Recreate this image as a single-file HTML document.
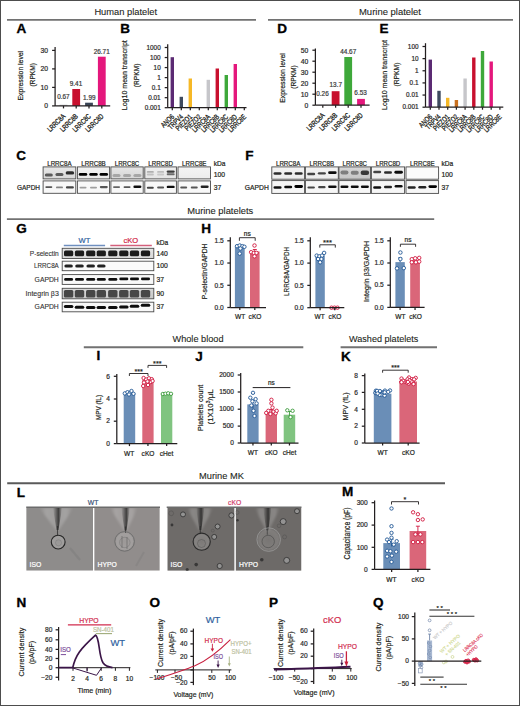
<!DOCTYPE html>
<html><head><meta charset="utf-8"><style>
html,body{margin:0;padding:0;background:#fff;}
svg{display:block;font-family:"Liberation Sans", sans-serif;}
</style></head><body>
<svg width="520" height="706" viewBox="0 0 520 706">
<defs>
<filter id="blur1" x="-20%" y="-20%" width="140%" height="140%"><feGaussianBlur stdDeviation="0.6"/></filter>
<filter id="blur2" x="-20%" y="-20%" width="140%" height="140%"><feGaussianBlur stdDeviation="1.2"/></filter>
</defs>
<rect x="0.5" y="0.5" width="519" height="705" fill="#fff" stroke="#4d4d4d" stroke-width="1"/>
<text x="125.7" y="15.2" font-size="9.5" text-anchor="middle" fill="#231f20" stroke="#231f20" stroke-width="0.1" textLength="62.6" lengthAdjust="spacingAndGlyphs">Human platelet</text>
<line x1="7" y1="19.9" x2="256" y2="19.9" stroke="#727272" stroke-width="1.9"/>
<text x="390" y="15.2" font-size="9.5" text-anchor="middle" fill="#231f20" stroke="#231f20" stroke-width="0.1" textLength="62" lengthAdjust="spacingAndGlyphs">Murine platelet</text>
<line x1="268" y1="19.9" x2="513" y2="19.9" stroke="#727272" stroke-width="1.9"/>
<text transform="translate(16.4,33.099999999999994) scale(1.12,1)" font-size="12.1" font-weight="bold" fill="#000" stroke="#000" stroke-width="0.3">A</text>
<line x1="55.1" y1="47.0" x2="55.1" y2="105.9" stroke="#231f20" stroke-width="1.25"/>
<line x1="52.1" y1="50.400000000000006" x2="55.1" y2="50.400000000000006" stroke="#231f20" stroke-width="1.25"/>
<text x="48.1" y="52.748000000000005" font-size="6.8" text-anchor="end" fill="#2a2a2a" stroke="#2a2a2a" stroke-width="0.2">30</text>
<line x1="52.1" y1="68.9" x2="55.1" y2="68.9" stroke="#231f20" stroke-width="1.25"/>
<text x="48.1" y="71.248" font-size="6.8" text-anchor="end" fill="#2a2a2a" stroke="#2a2a2a" stroke-width="0.2">20</text>
<line x1="52.1" y1="87.4" x2="55.1" y2="87.4" stroke="#231f20" stroke-width="1.25"/>
<text x="48.1" y="89.748" font-size="6.8" text-anchor="end" fill="#2a2a2a" stroke="#2a2a2a" stroke-width="0.2">10</text>
<line x1="52.1" y1="105.9" x2="55.1" y2="105.9" stroke="#231f20" stroke-width="1.25"/>
<text x="48.1" y="108.248" font-size="6.8" text-anchor="end" fill="#2a2a2a" stroke="#2a2a2a" stroke-width="0.2">0</text>
<rect x="59.6" y="104.7" width="7.8" height="1.2000000000000028" fill="#c6c6ca"/>
<rect x="72.3" y="89.0" width="7.8" height="16.900000000000006" fill="#c8102e"/>
<rect x="85.1" y="102.7" width="7.8" height="3.200000000000003" fill="#3a4556"/>
<rect x="97.89999999999999" y="56.7" width="7.8" height="49.2" fill="#e4177c"/>
<line x1="55.1" y1="105.9" x2="110.2" y2="105.9" stroke="#231f20" stroke-width="1.25"/>
<line x1="63.5" y1="105.9" x2="63.5" y2="108.4" stroke="#231f20" stroke-width="1.25"/>
<line x1="76.2" y1="105.9" x2="76.2" y2="108.4" stroke="#231f20" stroke-width="1.25"/>
<line x1="89.0" y1="105.9" x2="89.0" y2="108.4" stroke="#231f20" stroke-width="1.25"/>
<line x1="101.8" y1="105.9" x2="101.8" y2="108.4" stroke="#231f20" stroke-width="1.25"/>
<text x="63.4" y="99.4" font-size="6.4" text-anchor="middle" fill="#3a3a3a" stroke="#3a3a3a" stroke-width="0.2">0.67</text>
<text x="76.0" y="85.9" font-size="6.4" text-anchor="middle" fill="#3a3a3a" stroke="#3a3a3a" stroke-width="0.2">9.41</text>
<text x="89.3" y="99.8" font-size="6.4" text-anchor="middle" fill="#3a3a3a" stroke="#3a3a3a" stroke-width="0.2">1.99</text>
<text x="101.7" y="53.7" font-size="6.4" text-anchor="middle" fill="#3a3a3a" stroke="#3a3a3a" stroke-width="0.2">26.71</text>
<text transform="translate(65.8,116.8) rotate(-45)" font-size="7.4" text-anchor="end" fill="#231f20" stroke="#231f20" stroke-width="0.3" textLength="22.02" lengthAdjust="spacingAndGlyphs">LRRC8A</text>
<text transform="translate(78.5,116.8) rotate(-45)" font-size="7.4" text-anchor="end" fill="#231f20" stroke="#231f20" stroke-width="0.3" textLength="22.02" lengthAdjust="spacingAndGlyphs">LRRC8B</text>
<text transform="translate(91.3,116.8) rotate(-45)" font-size="7.4" text-anchor="end" fill="#231f20" stroke="#231f20" stroke-width="0.3" textLength="22.32" lengthAdjust="spacingAndGlyphs">LRRC8C</text>
<text transform="translate(104.1,116.8) rotate(-45)" font-size="7.4" text-anchor="end" fill="#231f20" stroke="#231f20" stroke-width="0.3" textLength="22.32" lengthAdjust="spacingAndGlyphs">LRRC8D</text>
<text transform="translate(23.4,75.7) rotate(-90)" font-size="7.9" text-anchor="middle" fill="#231f20" stroke="#231f20" stroke-width="0.2" textLength="49.6" lengthAdjust="spacingAndGlyphs">Expression level</text>
<text transform="translate(35.3,74.8) rotate(-90)" font-size="7.9" text-anchor="middle" fill="#231f20" stroke="#231f20" stroke-width="0.2" textLength="23.6" lengthAdjust="spacingAndGlyphs">(RPKM)</text>
<text transform="translate(120.2,33.0) scale(1.12,1)" font-size="12.1" font-weight="bold" fill="#000" stroke="#000" stroke-width="0.3">B</text>
<line x1="167.7" y1="44.3" x2="167.7" y2="107.7" stroke="#231f20" stroke-width="1.25"/>
<line x1="164.7" y1="107.7" x2="167.7" y2="107.7" stroke="#231f20" stroke-width="1.25"/>
<text x="160.7" y="109.90400000000001" font-size="6.4" text-anchor="end" fill="#2a2a2a" stroke="#2a2a2a" stroke-width="0.2">0.001</text>
<line x1="164.7" y1="97.66666666666667" x2="167.7" y2="97.66666666666667" stroke="#231f20" stroke-width="1.25"/>
<text x="160.7" y="99.87066666666668" font-size="6.4" text-anchor="end" fill="#2a2a2a" stroke="#2a2a2a" stroke-width="0.2">0.01</text>
<line x1="164.7" y1="87.63333333333334" x2="167.7" y2="87.63333333333334" stroke="#231f20" stroke-width="1.25"/>
<text x="160.7" y="89.83733333333335" font-size="6.4" text-anchor="end" fill="#2a2a2a" stroke="#2a2a2a" stroke-width="0.2">0.1</text>
<line x1="164.7" y1="77.6" x2="167.7" y2="77.6" stroke="#231f20" stroke-width="1.25"/>
<text x="160.7" y="79.804" font-size="6.4" text-anchor="end" fill="#2a2a2a" stroke="#2a2a2a" stroke-width="0.2">1</text>
<line x1="164.7" y1="67.56666666666666" x2="167.7" y2="67.56666666666666" stroke="#231f20" stroke-width="1.25"/>
<text x="160.7" y="69.77066666666667" font-size="6.4" text-anchor="end" fill="#2a2a2a" stroke="#2a2a2a" stroke-width="0.2">10</text>
<line x1="164.7" y1="57.53333333333334" x2="167.7" y2="57.53333333333334" stroke="#231f20" stroke-width="1.25"/>
<text x="160.7" y="59.73733333333334" font-size="6.4" text-anchor="end" fill="#2a2a2a" stroke="#2a2a2a" stroke-width="0.2">100</text>
<line x1="164.7" y1="47.5" x2="167.7" y2="47.5" stroke="#231f20" stroke-width="1.25"/>
<text x="160.7" y="49.704" font-size="6.4" text-anchor="end" fill="#2a2a2a" stroke="#2a2a2a" stroke-width="0.2">1000</text>
<rect x="170.60000000000002" y="57.2" width="3.4" height="50.5" fill="#5b2a73"/>
<rect x="179.60000000000002" y="96.8" width="3.4" height="10.900000000000006" fill="#3e4a5f"/>
<rect x="188.60000000000002" y="78.5" width="3.4" height="29.200000000000003" fill="#f6b826"/>
<rect x="206.60000000000002" y="79.8" width="3.4" height="27.900000000000006" fill="#c6c6ca"/>
<rect x="215.60000000000002" y="68.5" width="3.4" height="39.2" fill="#c8102e"/>
<rect x="224.60000000000002" y="75.0" width="3.4" height="32.7" fill="#3ea83a"/>
<rect x="233.60000000000002" y="64.0" width="3.4" height="43.7" fill="#e4177c"/>
<line x1="167.7" y1="107.7" x2="246.5" y2="107.7" stroke="#231f20" stroke-width="1.25"/>
<line x1="172.3" y1="107.7" x2="172.3" y2="110.2" stroke="#231f20" stroke-width="1.25"/>
<line x1="181.3" y1="107.7" x2="181.3" y2="110.2" stroke="#231f20" stroke-width="1.25"/>
<line x1="190.3" y1="107.7" x2="190.3" y2="110.2" stroke="#231f20" stroke-width="1.25"/>
<line x1="199.3" y1="107.7" x2="199.3" y2="110.2" stroke="#231f20" stroke-width="1.25"/>
<line x1="208.3" y1="107.7" x2="208.3" y2="110.2" stroke="#231f20" stroke-width="1.25"/>
<line x1="217.3" y1="107.7" x2="217.3" y2="110.2" stroke="#231f20" stroke-width="1.25"/>
<line x1="226.3" y1="107.7" x2="226.3" y2="110.2" stroke="#231f20" stroke-width="1.25"/>
<line x1="235.3" y1="107.7" x2="235.3" y2="110.2" stroke="#231f20" stroke-width="1.25"/>
<line x1="244.3" y1="107.7" x2="244.3" y2="110.2" stroke="#231f20" stroke-width="1.25"/>
<text transform="translate(174.60000000000002,117.3) rotate(-45)" font-size="7.4" text-anchor="end" fill="#231f20" stroke="#231f20" stroke-width="0.3" textLength="15.19" lengthAdjust="spacingAndGlyphs">ANO6</text>
<text transform="translate(183.60000000000002,117.3) rotate(-45)" font-size="7.4" text-anchor="end" fill="#231f20" stroke="#231f20" stroke-width="0.3" textLength="17.98" lengthAdjust="spacingAndGlyphs">TRPV4</text>
<text transform="translate(192.60000000000002,117.3) rotate(-45)" font-size="7.4" text-anchor="end" fill="#231f20" stroke="#231f20" stroke-width="0.3" textLength="19.84" lengthAdjust="spacingAndGlyphs">PIEZO1</text>
<text transform="translate(201.60000000000002,117.3) rotate(-45)" font-size="7.4" text-anchor="end" fill="#231f20" stroke="#231f20" stroke-width="0.3" textLength="19.84" lengthAdjust="spacingAndGlyphs">PIEZO2</text>
<text transform="translate(210.60000000000002,117.3) rotate(-45)" font-size="7.4" text-anchor="end" fill="#231f20" stroke="#231f20" stroke-width="0.3" textLength="22.02" lengthAdjust="spacingAndGlyphs">LRRC8A</text>
<text transform="translate(219.60000000000002,117.3) rotate(-45)" font-size="7.4" text-anchor="end" fill="#231f20" stroke="#231f20" stroke-width="0.3" textLength="22.02" lengthAdjust="spacingAndGlyphs">LRRC8B</text>
<text transform="translate(228.60000000000002,117.3) rotate(-45)" font-size="7.4" text-anchor="end" fill="#231f20" stroke="#231f20" stroke-width="0.3" textLength="22.32" lengthAdjust="spacingAndGlyphs">LRRC8C</text>
<text transform="translate(237.60000000000002,117.3) rotate(-45)" font-size="7.4" text-anchor="end" fill="#231f20" stroke="#231f20" stroke-width="0.3" textLength="22.32" lengthAdjust="spacingAndGlyphs">LRRC8D</text>
<text transform="translate(246.60000000000002,117.3) rotate(-45)" font-size="7.4" text-anchor="end" fill="#231f20" stroke="#231f20" stroke-width="0.3" textLength="22.02" lengthAdjust="spacingAndGlyphs">LRRC8E</text>
<text transform="translate(127.2,75.2) rotate(-90)" font-size="7.9" text-anchor="middle" fill="#231f20" stroke="#231f20" stroke-width="0.2" textLength="70" lengthAdjust="spacingAndGlyphs">Log10 mean transcript</text>
<text transform="translate(138.9,75.4) rotate(-90)" font-size="7.9" text-anchor="middle" fill="#231f20" stroke="#231f20" stroke-width="0.2" textLength="23.5" lengthAdjust="spacingAndGlyphs">(RPKM)</text>
<text transform="translate(277.29999999999995,33.099999999999994) scale(1.12,1)" font-size="12.1" font-weight="bold" fill="#000" stroke="#000" stroke-width="0.3">D</text>
<line x1="315.4" y1="48.5" x2="315.4" y2="105.2" stroke="#231f20" stroke-width="1.25"/>
<line x1="312.4" y1="50.199999999999996" x2="315.4" y2="50.199999999999996" stroke="#231f20" stroke-width="1.25"/>
<text x="308.4" y="52.547999999999995" font-size="6.8" text-anchor="end" fill="#2a2a2a" stroke="#2a2a2a" stroke-width="0.2">50</text>
<line x1="312.4" y1="61.2" x2="315.4" y2="61.2" stroke="#231f20" stroke-width="1.25"/>
<text x="308.4" y="63.548" font-size="6.8" text-anchor="end" fill="#2a2a2a" stroke="#2a2a2a" stroke-width="0.2">40</text>
<line x1="312.4" y1="72.2" x2="315.4" y2="72.2" stroke="#231f20" stroke-width="1.25"/>
<text x="308.4" y="74.548" font-size="6.8" text-anchor="end" fill="#2a2a2a" stroke="#2a2a2a" stroke-width="0.2">30</text>
<line x1="312.4" y1="83.2" x2="315.4" y2="83.2" stroke="#231f20" stroke-width="1.25"/>
<text x="308.4" y="85.548" font-size="6.8" text-anchor="end" fill="#2a2a2a" stroke="#2a2a2a" stroke-width="0.2">20</text>
<line x1="312.4" y1="94.2" x2="315.4" y2="94.2" stroke="#231f20" stroke-width="1.25"/>
<text x="308.4" y="96.548" font-size="6.8" text-anchor="end" fill="#2a2a2a" stroke="#2a2a2a" stroke-width="0.2">10</text>
<line x1="312.4" y1="105.2" x2="315.4" y2="105.2" stroke="#231f20" stroke-width="1.25"/>
<text x="308.4" y="107.548" font-size="6.8" text-anchor="end" fill="#2a2a2a" stroke="#2a2a2a" stroke-width="0.2">0</text>
<rect x="318.90000000000003" y="104.9" width="7.8" height="0.29999999999999716" fill="#c6c6ca"/>
<rect x="331.70000000000005" y="91.2" width="7.8" height="14.0" fill="#c8102e"/>
<rect x="344.3" y="57.0" width="7.8" height="48.2" fill="#3ea83a"/>
<rect x="357.1" y="98.9" width="7.8" height="6.299999999999997" fill="#e4177c"/>
<line x1="315.4" y1="105.2" x2="369.6" y2="105.2" stroke="#231f20" stroke-width="1.25"/>
<line x1="322.8" y1="105.2" x2="322.8" y2="107.7" stroke="#231f20" stroke-width="1.25"/>
<line x1="335.6" y1="105.2" x2="335.6" y2="107.7" stroke="#231f20" stroke-width="1.25"/>
<line x1="348.2" y1="105.2" x2="348.2" y2="107.7" stroke="#231f20" stroke-width="1.25"/>
<line x1="361.0" y1="105.2" x2="361.0" y2="107.7" stroke="#231f20" stroke-width="1.25"/>
<text x="322.5" y="95.8" font-size="6.4" text-anchor="middle" fill="#3a3a3a" stroke="#3a3a3a" stroke-width="0.2">0.26</text>
<text x="335.8" y="87.3" font-size="6.4" text-anchor="middle" fill="#3a3a3a" stroke="#3a3a3a" stroke-width="0.2">13.7</text>
<text x="348.2" y="53.8" font-size="6.4" text-anchor="middle" fill="#3a3a3a" stroke="#3a3a3a" stroke-width="0.2">44.67</text>
<text x="360.6" y="95.2" font-size="6.4" text-anchor="middle" fill="#3a3a3a" stroke="#3a3a3a" stroke-width="0.2">6.53</text>
<text transform="translate(325.1,115.8) rotate(-45)" font-size="7.4" text-anchor="end" fill="#231f20" stroke="#231f20" stroke-width="0.3" textLength="22.02" lengthAdjust="spacingAndGlyphs">LRRC8A</text>
<text transform="translate(337.90000000000003,115.8) rotate(-45)" font-size="7.4" text-anchor="end" fill="#231f20" stroke="#231f20" stroke-width="0.3" textLength="22.02" lengthAdjust="spacingAndGlyphs">LRRC8B</text>
<text transform="translate(350.5,115.8) rotate(-45)" font-size="7.4" text-anchor="end" fill="#231f20" stroke="#231f20" stroke-width="0.3" textLength="22.32" lengthAdjust="spacingAndGlyphs">LRRC8C</text>
<text transform="translate(363.3,115.8) rotate(-45)" font-size="7.4" text-anchor="end" fill="#231f20" stroke="#231f20" stroke-width="0.3" textLength="22.32" lengthAdjust="spacingAndGlyphs">LRRC8D</text>
<text transform="translate(284.5,78) rotate(-90)" font-size="7.9" text-anchor="middle" fill="#231f20" stroke="#231f20" stroke-width="0.2" textLength="49.6" lengthAdjust="spacingAndGlyphs">Expression level</text>
<text transform="translate(296.3,77) rotate(-90)" font-size="7.9" text-anchor="middle" fill="#231f20" stroke="#231f20" stroke-width="0.2" textLength="23.6" lengthAdjust="spacingAndGlyphs">(RPKM)</text>
<text transform="translate(379.4,33.0) scale(1.12,1)" font-size="12.1" font-weight="bold" fill="#000" stroke="#000" stroke-width="0.3">E</text>
<line x1="425.5" y1="43.2" x2="425.5" y2="107.2" stroke="#231f20" stroke-width="1.25"/>
<line x1="422.5" y1="107.2" x2="425.5" y2="107.2" stroke="#231f20" stroke-width="1.25"/>
<text x="418.5" y="109.40400000000001" font-size="6.4" text-anchor="end" fill="#2a2a2a" stroke="#2a2a2a" stroke-width="0.2">0.001</text>
<line x1="422.5" y1="95.06" x2="425.5" y2="95.06" stroke="#231f20" stroke-width="1.25"/>
<text x="418.5" y="97.26400000000001" font-size="6.4" text-anchor="end" fill="#2a2a2a" stroke="#2a2a2a" stroke-width="0.2">0.01</text>
<line x1="422.5" y1="82.92" x2="425.5" y2="82.92" stroke="#231f20" stroke-width="1.25"/>
<text x="418.5" y="85.12400000000001" font-size="6.4" text-anchor="end" fill="#2a2a2a" stroke="#2a2a2a" stroke-width="0.2">0.1</text>
<line x1="422.5" y1="70.78" x2="425.5" y2="70.78" stroke="#231f20" stroke-width="1.25"/>
<text x="418.5" y="72.98400000000001" font-size="6.4" text-anchor="end" fill="#2a2a2a" stroke="#2a2a2a" stroke-width="0.2">1</text>
<line x1="422.5" y1="58.64" x2="425.5" y2="58.64" stroke="#231f20" stroke-width="1.25"/>
<text x="418.5" y="60.844" font-size="6.4" text-anchor="end" fill="#2a2a2a" stroke="#2a2a2a" stroke-width="0.2">10</text>
<line x1="422.5" y1="46.5" x2="425.5" y2="46.5" stroke="#231f20" stroke-width="1.25"/>
<text x="418.5" y="48.704" font-size="6.4" text-anchor="end" fill="#2a2a2a" stroke="#2a2a2a" stroke-width="0.2">100</text>
<rect x="428.6" y="59.6" width="3.4" height="47.6" fill="#5b2a73"/>
<rect x="437.3" y="90.8" width="3.4" height="16.400000000000006" fill="#3e4a5f"/>
<rect x="446.0" y="97.8" width="3.4" height="9.400000000000006" fill="#f6b826"/>
<rect x="454.70000000000005" y="100.0" width="3.4" height="7.200000000000003" fill="#c9701e"/>
<rect x="463.40000000000003" y="78.5" width="3.4" height="28.700000000000003" fill="#c6c6ca"/>
<rect x="472.1" y="57.5" width="3.4" height="49.7" fill="#c8102e"/>
<rect x="480.8" y="51.0" width="3.4" height="56.2" fill="#3ea83a"/>
<rect x="489.5" y="61.5" width="3.4" height="45.7" fill="#e4177c"/>
<line x1="425.5" y1="107.2" x2="503.3" y2="107.2" stroke="#231f20" stroke-width="1.25"/>
<line x1="430.3" y1="107.2" x2="430.3" y2="109.7" stroke="#231f20" stroke-width="1.25"/>
<line x1="439.0" y1="107.2" x2="439.0" y2="109.7" stroke="#231f20" stroke-width="1.25"/>
<line x1="447.7" y1="107.2" x2="447.7" y2="109.7" stroke="#231f20" stroke-width="1.25"/>
<line x1="456.40000000000003" y1="107.2" x2="456.40000000000003" y2="109.7" stroke="#231f20" stroke-width="1.25"/>
<line x1="465.1" y1="107.2" x2="465.1" y2="109.7" stroke="#231f20" stroke-width="1.25"/>
<line x1="473.8" y1="107.2" x2="473.8" y2="109.7" stroke="#231f20" stroke-width="1.25"/>
<line x1="482.5" y1="107.2" x2="482.5" y2="109.7" stroke="#231f20" stroke-width="1.25"/>
<line x1="491.2" y1="107.2" x2="491.2" y2="109.7" stroke="#231f20" stroke-width="1.25"/>
<line x1="499.9" y1="107.2" x2="499.9" y2="109.7" stroke="#231f20" stroke-width="1.25"/>
<text transform="translate(432.6,117.3) rotate(-45)" font-size="7.4" text-anchor="end" fill="#231f20" stroke="#231f20" stroke-width="0.3" textLength="15.19" lengthAdjust="spacingAndGlyphs">ANO6</text>
<text transform="translate(441.3,117.3) rotate(-45)" font-size="7.4" text-anchor="end" fill="#231f20" stroke="#231f20" stroke-width="0.3" textLength="17.98" lengthAdjust="spacingAndGlyphs">TRPV4</text>
<text transform="translate(450.0,117.3) rotate(-45)" font-size="7.4" text-anchor="end" fill="#231f20" stroke="#231f20" stroke-width="0.3" textLength="19.84" lengthAdjust="spacingAndGlyphs">PIEZO1</text>
<text transform="translate(458.70000000000005,117.3) rotate(-45)" font-size="7.4" text-anchor="end" fill="#231f20" stroke="#231f20" stroke-width="0.3" textLength="19.84" lengthAdjust="spacingAndGlyphs">PIEZO2</text>
<text transform="translate(467.40000000000003,117.3) rotate(-45)" font-size="7.4" text-anchor="end" fill="#231f20" stroke="#231f20" stroke-width="0.3" textLength="22.02" lengthAdjust="spacingAndGlyphs">LRRC8A</text>
<text transform="translate(476.1,117.3) rotate(-45)" font-size="7.4" text-anchor="end" fill="#231f20" stroke="#231f20" stroke-width="0.3" textLength="22.02" lengthAdjust="spacingAndGlyphs">LRRC8B</text>
<text transform="translate(484.8,117.3) rotate(-45)" font-size="7.4" text-anchor="end" fill="#231f20" stroke="#231f20" stroke-width="0.3" textLength="22.32" lengthAdjust="spacingAndGlyphs">LRRC8C</text>
<text transform="translate(493.5,117.3) rotate(-45)" font-size="7.4" text-anchor="end" fill="#231f20" stroke="#231f20" stroke-width="0.3" textLength="22.32" lengthAdjust="spacingAndGlyphs">LRRC8D</text>
<text transform="translate(502.2,117.3) rotate(-45)" font-size="7.4" text-anchor="end" fill="#231f20" stroke="#231f20" stroke-width="0.3" textLength="22.02" lengthAdjust="spacingAndGlyphs">LRRC8E</text>
<text transform="translate(387.0,75.0) rotate(-90)" font-size="7.9" text-anchor="middle" fill="#231f20" stroke="#231f20" stroke-width="0.2" textLength="70" lengthAdjust="spacingAndGlyphs">Log10 mean transcript</text>
<text transform="translate(398.6,74.6) rotate(-90)" font-size="7.9" text-anchor="middle" fill="#231f20" stroke="#231f20" stroke-width="0.2" textLength="24" lengthAdjust="spacingAndGlyphs">(RPKM)</text>
<text transform="translate(16.299999999999997,160.3) scale(1.12,1)" font-size="12.1" font-weight="bold" fill="#000" stroke="#000" stroke-width="0.3">C</text>
<text x="17" y="190.0" font-size="6.8" text-anchor="start" fill="#231f20" stroke="#231f20" stroke-width="0.2" textLength="23" lengthAdjust="spacingAndGlyphs">GAPDH</text>
<text x="59.45" y="165.6" font-size="6.4" text-anchor="middle" fill="#231f20" stroke="#231f20" stroke-width="0.2" textLength="24.5" lengthAdjust="spacingAndGlyphs">LRRC8A</text>
<text x="93.5" y="165.6" font-size="6.4" text-anchor="middle" fill="#231f20" stroke="#231f20" stroke-width="0.2" textLength="24.5" lengthAdjust="spacingAndGlyphs">LRRC8B</text>
<text x="127.05" y="165.6" font-size="6.4" text-anchor="middle" fill="#231f20" stroke="#231f20" stroke-width="0.2" textLength="24.5" lengthAdjust="spacingAndGlyphs">LRRC8C</text>
<text x="160.60000000000002" y="165.6" font-size="6.4" text-anchor="middle" fill="#231f20" stroke="#231f20" stroke-width="0.2" textLength="24.5" lengthAdjust="spacingAndGlyphs">LRRC8D</text>
<text x="194.25" y="165.6" font-size="6.4" text-anchor="middle" fill="#231f20" stroke="#231f20" stroke-width="0.2" textLength="24.5" lengthAdjust="spacingAndGlyphs">LRRC8E</text>
<linearGradient id="g161" x1="0" y1="0" x2="0" y2="1"><stop offset="0" stop-color="#e8e8e8"/><stop offset="1" stop-color="#d8d8d8"/></linearGradient>
<rect x="43.1" y="166.9" width="32.699999999999996" height="12.0" fill="url(#g161)"/>
<rect x="44.82" y="173.40" width="8" height="3.0" rx="1.5" fill="#444" opacity="0.85" filter="url(#blur1)"/>
<rect x="55.45" y="173.00" width="8" height="3.0" rx="1.5" fill="#444" opacity="0.85" filter="url(#blur1)"/>
<rect x="65.66" y="171.20" width="8.5" height="3.4" rx="1.7" fill="#222" opacity="0.95" filter="url(#blur1)"/>
<rect x="43.1" y="166.9" width="32.699999999999996" height="12.0" fill="none" stroke="#4a4a4a" stroke-width="0.9"/>
<rect x="43.1" y="180.9" width="32.699999999999996" height="12.400000000000006" fill="#f8f8f8"/>
<rect x="45.32" y="186.20" width="7" height="1.8" rx="0.9" fill="#444" opacity="0.9" filter="url(#blur1)"/>
<rect x="55.95" y="186.50" width="7" height="1.8" rx="0.9" fill="#666" opacity="0.8" filter="url(#blur1)"/>
<rect x="65.91" y="186.30" width="8" height="2.2" rx="1.1" fill="#333" opacity="0.9" filter="url(#blur1)"/>
<rect x="43.1" y="180.9" width="32.699999999999996" height="12.400000000000006" fill="none" stroke="#4a4a4a" stroke-width="0.9"/>
<linearGradient id="g172" x1="0" y1="0" x2="0" y2="1"><stop offset="0" stop-color="#f2f2f2"/><stop offset="1" stop-color="#e8e8e8"/></linearGradient>
<rect x="77.4" y="166.9" width="32.19999999999999" height="12.0" fill="url(#g172)"/>
<rect x="78.78" y="173.00" width="8.5" height="2.8" rx="1.4" fill="#000" opacity="1" filter="url(#blur1)"/>
<rect x="89.25" y="173.00" width="8.5" height="2.8" rx="1.4" fill="#000" opacity="1" filter="url(#blur1)"/>
<rect x="99.55" y="173.00" width="8.5" height="2.8" rx="1.4" fill="#000" opacity="1" filter="url(#blur1)"/>
<rect x="77.4" y="166.9" width="32.19999999999999" height="12.0" fill="none" stroke="#4a4a4a" stroke-width="0.9"/>
<rect x="77.4" y="180.9" width="32.19999999999999" height="12.400000000000006" fill="#f8f8f8"/>
<rect x="79.53" y="186.70" width="7" height="1.8" rx="0.9" fill="#888" opacity="0.8" filter="url(#blur1)"/>
<rect x="90.00" y="186.70" width="7" height="1.8" rx="0.9" fill="#888" opacity="0.8" filter="url(#blur1)"/>
<rect x="99.80" y="186.00" width="8" height="2.2" rx="1.1" fill="#444" opacity="0.9" filter="url(#blur1)"/>
<rect x="77.4" y="180.9" width="32.19999999999999" height="12.400000000000006" fill="none" stroke="#4a4a4a" stroke-width="0.9"/>
<linearGradient id="g183" x1="0" y1="0" x2="0" y2="1"><stop offset="0" stop-color="#e6e6e6"/><stop offset="1" stop-color="#d6d6d6"/></linearGradient>
<rect x="110.9" y="166.9" width="32.29999999999998" height="12.0" fill="url(#g183)"/>
<rect x="112.55" y="173.90" width="8" height="3.2" rx="1.6" fill="#9a9a9a" opacity="0.8" filter="url(#blur1)"/>
<rect x="123.05" y="173.90" width="8" height="3.2" rx="1.6" fill="#9a9a9a" opacity="0.8" filter="url(#blur1)"/>
<rect x="133.39" y="173.90" width="8" height="3.2" rx="1.6" fill="#9a9a9a" opacity="0.8" filter="url(#blur1)"/>
<rect x="110.9" y="166.9" width="32.29999999999998" height="12.0" fill="none" stroke="#4a4a4a" stroke-width="0.9"/>
<rect x="110.9" y="180.9" width="32.29999999999998" height="12.400000000000006" fill="#f8f8f8"/>
<rect x="113.05" y="186.20" width="7" height="1.8" rx="0.9" fill="#555" opacity="0.9" filter="url(#blur1)"/>
<rect x="123.55" y="186.20" width="7" height="1.8" rx="0.9" fill="#444" opacity="0.9" filter="url(#blur1)"/>
<rect x="133.39" y="185.60" width="8" height="2.4" rx="1.2" fill="#111" opacity="1" filter="url(#blur1)"/>
<rect x="110.9" y="180.9" width="32.29999999999998" height="12.400000000000006" fill="none" stroke="#4a4a4a" stroke-width="0.9"/>
<linearGradient id="g194" x1="0" y1="0" x2="0" y2="1"><stop offset="0" stop-color="#f0f0f0"/><stop offset="1" stop-color="#e4e4e4"/></linearGradient>
<rect x="144.8" y="166.9" width="31.599999999999994" height="12.0" fill="url(#g194)"/>
<rect x="146.83" y="171.00" width="7" height="1.8" rx="0.9" fill="#888" opacity="0.6" filter="url(#blur1)"/>
<rect x="146.83" y="173.60" width="7" height="1.8" rx="0.9" fill="#999" opacity="0.5" filter="url(#blur1)"/>
<rect x="157.10" y="171.00" width="7" height="1.8" rx="0.9" fill="#999" opacity="0.55" filter="url(#blur1)"/>
<rect x="157.10" y="173.60" width="7" height="1.8" rx="0.9" fill="#aaa" opacity="0.5" filter="url(#blur1)"/>
<rect x="166.71" y="170.40" width="8" height="2.4" rx="1.2" fill="#333" opacity="0.95" filter="url(#blur1)"/>
<rect x="166.71" y="173.30" width="8" height="2.0" rx="1.0" fill="#555" opacity="0.85" filter="url(#blur1)"/>
<rect x="144.8" y="166.9" width="31.599999999999994" height="12.0" fill="none" stroke="#4a4a4a" stroke-width="0.9"/>
<rect x="144.8" y="180.9" width="31.599999999999994" height="12.400000000000006" fill="#f8f8f8"/>
<rect x="146.83" y="186.70" width="7" height="2" rx="1.0" fill="#333" opacity="0.9" filter="url(#blur1)"/>
<rect x="157.10" y="186.40" width="7" height="2" rx="1.0" fill="#444" opacity="0.9" filter="url(#blur1)"/>
<rect x="166.71" y="185.70" width="8" height="2.4" rx="1.2" fill="#111" opacity="1" filter="url(#blur1)"/>
<rect x="144.8" y="180.9" width="31.599999999999994" height="12.400000000000006" fill="none" stroke="#4a4a4a" stroke-width="0.9"/>
<linearGradient id="g208" x1="0" y1="0" x2="0" y2="1"><stop offset="0" stop-color="#f4f4f4"/><stop offset="1" stop-color="#ececec"/></linearGradient>
<rect x="178.0" y="166.9" width="32.5" height="12.0" fill="url(#g208)"/>
<rect x="178.0" y="166.9" width="32.5" height="12.0" fill="none" stroke="#4a4a4a" stroke-width="0.9"/>
<rect x="178.0" y="180.9" width="32.5" height="12.400000000000006" fill="#f8f8f8"/>
<rect x="180.19" y="186.40" width="7" height="2" rx="1.0" fill="#444" opacity="0.9" filter="url(#blur1)"/>
<rect x="190.75" y="186.40" width="7" height="2" rx="1.0" fill="#444" opacity="0.9" filter="url(#blur1)"/>
<rect x="200.65" y="185.60" width="8" height="2.4" rx="1.2" fill="#222" opacity="1" filter="url(#blur1)"/>
<rect x="178.0" y="180.9" width="32.5" height="12.400000000000006" fill="none" stroke="#4a4a4a" stroke-width="0.9"/>
<text x="213.7" y="166.2" font-size="6.6" text-anchor="start" fill="#231f20" stroke="#231f20" stroke-width="0.2">kDa</text>
<text x="213.7" y="176.6" font-size="6.8" text-anchor="start" fill="#231f20" stroke="#231f20" stroke-width="0.2">100</text>
<text x="213.7" y="190.0" font-size="6.8" text-anchor="start" fill="#231f20" stroke="#231f20" stroke-width="0.2">37</text>
<text transform="translate(245.20000000000002,160.3) scale(1.12,1)" font-size="12.1" font-weight="bold" fill="#000" stroke="#000" stroke-width="0.3">F</text>
<text x="244.8" y="190.0" font-size="6.8" text-anchor="start" fill="#231f20" stroke="#231f20" stroke-width="0.2" textLength="24" lengthAdjust="spacingAndGlyphs">GAPDH</text>
<text x="288.20000000000005" y="165.6" font-size="6.4" text-anchor="middle" fill="#231f20" stroke="#231f20" stroke-width="0.2" textLength="24.5" lengthAdjust="spacingAndGlyphs">LRRC8A</text>
<text x="321.85" y="165.6" font-size="6.4" text-anchor="middle" fill="#231f20" stroke="#231f20" stroke-width="0.2" textLength="24.5" lengthAdjust="spacingAndGlyphs">LRRC8B</text>
<text x="354.75" y="165.6" font-size="6.4" text-anchor="middle" fill="#231f20" stroke="#231f20" stroke-width="0.2" textLength="24.5" lengthAdjust="spacingAndGlyphs">LRRC8C</text>
<text x="388.0" y="165.6" font-size="6.4" text-anchor="middle" fill="#231f20" stroke="#231f20" stroke-width="0.2" textLength="24.5" lengthAdjust="spacingAndGlyphs">LRRC8D</text>
<text x="422.3" y="165.6" font-size="6.4" text-anchor="middle" fill="#231f20" stroke="#231f20" stroke-width="0.2" textLength="24.5" lengthAdjust="spacingAndGlyphs">LRRC8E</text>
<linearGradient id="g226" x1="0" y1="0" x2="0" y2="1"><stop offset="0" stop-color="#f4f4f4"/><stop offset="1" stop-color="#ececec"/></linearGradient>
<rect x="271.8" y="166.9" width="32.80000000000001" height="12.299999999999983" fill="url(#g226)"/>
<rect x="273.54" y="172.25" width="8" height="2.6" rx="1.3" fill="#222" opacity="0.95" filter="url(#blur1)"/>
<rect x="284.20" y="172.25" width="8" height="2.6" rx="1.3" fill="#222" opacity="0.95" filter="url(#blur1)"/>
<rect x="294.70" y="172.25" width="8" height="2.6" rx="1.3" fill="#222" opacity="0.95" filter="url(#blur1)"/>
<rect x="271.8" y="166.9" width="32.80000000000001" height="12.299999999999983" fill="none" stroke="#4a4a4a" stroke-width="0.9"/>
<rect x="271.8" y="180.6" width="32.80000000000001" height="12.800000000000011" fill="#f6f6f6"/>
<rect x="273.54" y="186.30" width="8" height="2.4" rx="1.2" fill="#111" opacity="1" filter="url(#blur1)"/>
<rect x="284.20" y="185.70" width="8" height="2.6" rx="1.3" fill="#111" opacity="1" filter="url(#blur1)"/>
<rect x="294.45" y="185.10" width="8.5" height="2.8" rx="1.4" fill="#000" opacity="1" filter="url(#blur1)"/>
<rect x="271.8" y="180.6" width="32.80000000000001" height="12.800000000000011" fill="none" stroke="#4a4a4a" stroke-width="0.9"/>
<linearGradient id="g237" x1="0" y1="0" x2="0" y2="1"><stop offset="0" stop-color="#f4f4f4"/><stop offset="1" stop-color="#ececec"/></linearGradient>
<rect x="305.4" y="166.9" width="32.900000000000034" height="12.299999999999983" fill="url(#g237)"/>
<rect x="307.16" y="172.85" width="8" height="2.4" rx="1.2" fill="#333" opacity="0.9" filter="url(#blur1)"/>
<rect x="317.85" y="172.15" width="8" height="2.4" rx="1.2" fill="#333" opacity="0.9" filter="url(#blur1)"/>
<rect x="328.13" y="171.25" width="8.5" height="2.8" rx="1.4" fill="#111" opacity="1" filter="url(#blur1)"/>
<rect x="305.4" y="166.9" width="32.900000000000034" height="12.299999999999983" fill="none" stroke="#4a4a4a" stroke-width="0.9"/>
<rect x="305.4" y="180.6" width="32.900000000000034" height="12.800000000000011" fill="#f6f6f6"/>
<rect x="307.41" y="186.40" width="7.5" height="2.2" rx="1.1" fill="#333" opacity="0.9" filter="url(#blur1)"/>
<rect x="318.10" y="186.10" width="7.5" height="2.2" rx="1.1" fill="#333" opacity="0.9" filter="url(#blur1)"/>
<rect x="328.13" y="185.40" width="8.5" height="2.6" rx="1.3" fill="#111" opacity="1" filter="url(#blur1)"/>
<rect x="305.4" y="180.6" width="32.900000000000034" height="12.800000000000011" fill="none" stroke="#4a4a4a" stroke-width="0.9"/>
<linearGradient id="g248" x1="0" y1="0" x2="0" y2="1"><stop offset="0" stop-color="#d8d8d8"/><stop offset="1" stop-color="#c6c6c6"/></linearGradient>
<rect x="338.9" y="166.9" width="31.700000000000045" height="12.299999999999983" fill="url(#g248)"/>
<rect x="340.45" y="170.55" width="8" height="4" rx="2.0" fill="#777" opacity="0.9" filter="url(#blur1)"/>
<rect x="350.75" y="170.75" width="8" height="4" rx="2.0" fill="#777" opacity="0.9" filter="url(#blur1)"/>
<rect x="360.64" y="170.55" width="8.5" height="4.4" rx="2.2" fill="#333" opacity="0.95" filter="url(#blur1)"/>
<rect x="338.9" y="166.9" width="31.700000000000045" height="12.299999999999983" fill="none" stroke="#4a4a4a" stroke-width="0.9"/>
<rect x="338.9" y="180.6" width="31.700000000000045" height="12.800000000000011" fill="#f6f6f6"/>
<rect x="340.45" y="185.50" width="8" height="2.4" rx="1.2" fill="#111" opacity="1" filter="url(#blur1)"/>
<rect x="350.75" y="185.50" width="8" height="2.4" rx="1.2" fill="#111" opacity="1" filter="url(#blur1)"/>
<rect x="360.89" y="185.50" width="8" height="2.4" rx="1.2" fill="#111" opacity="1" filter="url(#blur1)"/>
<rect x="338.9" y="180.6" width="31.700000000000045" height="12.800000000000011" fill="none" stroke="#4a4a4a" stroke-width="0.9"/>
<linearGradient id="g259" x1="0" y1="0" x2="0" y2="1"><stop offset="0" stop-color="#f4f4f4"/><stop offset="1" stop-color="#ececec"/></linearGradient>
<rect x="371.4" y="166.9" width="33.200000000000045" height="12.299999999999983" fill="url(#g259)"/>
<rect x="373.21" y="170.75" width="8" height="2.6" rx="1.3" fill="#333" opacity="0.9" filter="url(#blur1)"/>
<rect x="384.00" y="171.25" width="8" height="2.6" rx="1.3" fill="#222" opacity="0.95" filter="url(#blur1)"/>
<rect x="394.37" y="170.85" width="8.5" height="2.8" rx="1.4" fill="#111" opacity="1" filter="url(#blur1)"/>
<rect x="371.4" y="166.9" width="33.200000000000045" height="12.299999999999983" fill="none" stroke="#4a4a4a" stroke-width="0.9"/>
<rect x="371.4" y="180.6" width="33.200000000000045" height="12.800000000000011" fill="#f6f6f6"/>
<rect x="373.21" y="186.30" width="8" height="2.4" rx="1.2" fill="#111" opacity="1" filter="url(#blur1)"/>
<rect x="384.00" y="185.80" width="8" height="2.4" rx="1.2" fill="#222" opacity="1" filter="url(#blur1)"/>
<rect x="394.62" y="184.90" width="8" height="2.6" rx="1.3" fill="#111" opacity="1" filter="url(#blur1)"/>
<rect x="371.4" y="180.6" width="33.200000000000045" height="12.800000000000011" fill="none" stroke="#4a4a4a" stroke-width="0.9"/>
<rect x="406.0" y="166.9" width="32.60000000000002" height="12.299999999999983" fill="#fbfbfb"/>
<rect x="406.0" y="166.9" width="32.60000000000002" height="12.299999999999983" fill="none" stroke="#4a4a4a" stroke-width="0.9"/>
<rect x="406.0" y="180.6" width="32.60000000000002" height="12.800000000000011" fill="#f6f6f6"/>
<rect x="407.70" y="186.30" width="8" height="2.4" rx="1.2" fill="#222" opacity="1" filter="url(#blur1)"/>
<rect x="418.30" y="186.00" width="8" height="2.4" rx="1.2" fill="#222" opacity="1" filter="url(#blur1)"/>
<rect x="428.48" y="185.20" width="8.5" height="2.8" rx="1.4" fill="#000" opacity="1" filter="url(#blur1)"/>
<rect x="406.0" y="180.6" width="32.60000000000002" height="12.800000000000011" fill="none" stroke="#4a4a4a" stroke-width="0.9"/>
<text x="441.5" y="166.2" font-size="6.6" text-anchor="start" fill="#231f20" stroke="#231f20" stroke-width="0.2">kDa</text>
<text x="441.5" y="176.6" font-size="6.8" text-anchor="start" fill="#231f20" stroke="#231f20" stroke-width="0.2">100</text>
<text x="441.5" y="190.0" font-size="6.8" text-anchor="start" fill="#231f20" stroke="#231f20" stroke-width="0.2">37</text>
<text x="220.2" y="214.4" font-size="9.5" text-anchor="middle" fill="#231f20" stroke="#231f20" stroke-width="0.1" textLength="66" lengthAdjust="spacingAndGlyphs">Murine platelets</text>
<line x1="6.9" y1="219.1" x2="434.2" y2="219.1" stroke="#727272" stroke-width="1.9"/>
<text transform="translate(16.299999999999997,232.70000000000002) scale(1.12,1)" font-size="12.1" font-weight="bold" fill="#000" stroke="#000" stroke-width="0.3">G</text>
<text x="84.4" y="242.6" font-size="7.6" text-anchor="middle" fill="#2f5f9e" stroke="#2f5f9e" stroke-width="0.2">WT</text>
<text x="130.8" y="242.6" font-size="7.6" text-anchor="middle" fill="#d21f45" stroke="#d21f45" stroke-width="0.2">cKO</text>
<line x1="63.8" y1="245.6" x2="105.1" y2="245.6" stroke="#6f8fbf" stroke-width="1.5"/>
<line x1="110.3" y1="245.6" x2="151.8" y2="245.6" stroke="#d3607c" stroke-width="1.5"/>
<text x="58.8" y="255.8" font-size="6.9" text-anchor="end" fill="#333" stroke="#333" stroke-width="0.12" textLength="29.0" lengthAdjust="spacingAndGlyphs">P-selectin</text>
<text x="156.4" y="255.8" font-size="6.8" text-anchor="start" fill="#231f20" stroke="#231f20" stroke-width="0.2">140</text>
<text x="58.8" y="268.34999999999997" font-size="6.9" text-anchor="end" fill="#333" stroke="#333" stroke-width="0.12" textLength="24.7" lengthAdjust="spacingAndGlyphs">LRRC8A</text>
<text x="156.4" y="268.34999999999997" font-size="6.8" text-anchor="start" fill="#231f20" stroke="#231f20" stroke-width="0.2">100</text>
<text x="58.8" y="281.9" font-size="6.9" text-anchor="end" fill="#333" stroke="#333" stroke-width="0.12" textLength="24.2" lengthAdjust="spacingAndGlyphs">GAPDH</text>
<text x="156.4" y="281.9" font-size="6.8" text-anchor="start" fill="#231f20" stroke="#231f20" stroke-width="0.2">37</text>
<text x="58.8" y="295.95" font-size="6.9" text-anchor="end" fill="#333" stroke="#333" stroke-width="0.12" textLength="33.2" lengthAdjust="spacingAndGlyphs">Integrin β3</text>
<text x="156.4" y="295.95" font-size="6.8" text-anchor="start" fill="#231f20" stroke="#231f20" stroke-width="0.2">90</text>
<text x="58.8" y="309.4" font-size="6.9" text-anchor="end" fill="#333" stroke="#333" stroke-width="0.12" textLength="24.2" lengthAdjust="spacingAndGlyphs">GAPDH</text>
<text x="156.4" y="309.4" font-size="6.8" text-anchor="start" fill="#231f20" stroke="#231f20" stroke-width="0.2">37</text>
<text x="156.4" y="244.9" font-size="6.6" text-anchor="start" fill="#231f20" stroke="#231f20" stroke-width="0.2">kDa</text>
<linearGradient id="g298" x1="0" y1="0" x2="0" y2="1"><stop offset="0" stop-color="#e6e6e6"/><stop offset="1" stop-color="#d8d8d8"/></linearGradient>
<rect x="62.2" y="248.3" width="91.60000000000001" height="10.199999999999989" fill="url(#g298)"/>
<rect x="64.00" y="250.60" width="9.2" height="5.6" rx="1.5" fill="#1c1c1c" opacity="1" filter="url(#blur1)"/>
<rect x="74.90" y="250.60" width="9.2" height="5.6" rx="1.5" fill="#1c1c1c" opacity="1" filter="url(#blur1)"/>
<rect x="86.10" y="250.60" width="9.2" height="5.6" rx="1.5" fill="#1c1c1c" opacity="1" filter="url(#blur1)"/>
<rect x="96.70" y="250.60" width="9.2" height="5.6" rx="1.5" fill="#1c1c1c" opacity="1" filter="url(#blur1)"/>
<rect x="108.20" y="250.60" width="9.2" height="5.6" rx="1.5" fill="#1c1c1c" opacity="1" filter="url(#blur1)"/>
<rect x="119.20" y="250.60" width="9.2" height="5.6" rx="1.5" fill="#1c1c1c" opacity="1" filter="url(#blur1)"/>
<rect x="129.90" y="250.60" width="9.2" height="5.6" rx="1.5" fill="#1c1c1c" opacity="1" filter="url(#blur1)"/>
<rect x="140.90" y="250.60" width="9.2" height="5.6" rx="1.5" fill="#1c1c1c" opacity="1" filter="url(#blur1)"/>
<rect x="62.2" y="248.3" width="91.60000000000001" height="10.199999999999989" fill="none" stroke="#4a4a4a" stroke-width="0.9"/>
<rect x="62.2" y="261.2" width="91.60000000000001" height="9.5" fill="#fafafa"/>
<rect x="64.35" y="264.40" width="8.5" height="3.2" rx="1.6" fill="#222" opacity="1" filter="url(#blur1)"/>
<rect x="75.25" y="264.40" width="8.5" height="3.2" rx="1.6" fill="#222" opacity="1" filter="url(#blur1)"/>
<rect x="86.45" y="264.40" width="8.5" height="3.2" rx="1.6" fill="#222" opacity="1" filter="url(#blur1)"/>
<rect x="97.05" y="264.40" width="8.5" height="3.2" rx="1.6" fill="#222" opacity="1" filter="url(#blur1)"/>
<rect x="62.2" y="261.2" width="91.60000000000001" height="9.5" fill="none" stroke="#4a4a4a" stroke-width="0.9"/>
<rect x="62.2" y="274.6" width="91.60000000000001" height="9.799999999999955" fill="#f8f8f8"/>
<rect x="64.10" y="278.10" width="9" height="2.6" rx="1.3" fill="#111" opacity="1" filter="url(#blur1)"/>
<rect x="75.00" y="278.10" width="9" height="2.6" rx="1.3" fill="#111" opacity="1" filter="url(#blur1)"/>
<rect x="86.20" y="278.10" width="9" height="2.6" rx="1.3" fill="#111" opacity="1" filter="url(#blur1)"/>
<rect x="96.80" y="278.10" width="9" height="2.6" rx="1.3" fill="#111" opacity="1" filter="url(#blur1)"/>
<rect x="108.30" y="278.10" width="9" height="2.6" rx="1.3" fill="#111" opacity="1" filter="url(#blur1)"/>
<rect x="119.30" y="277.60" width="9" height="2.6" rx="1.3" fill="#111" opacity="1" filter="url(#blur1)"/>
<rect x="130.00" y="277.60" width="9" height="2.6" rx="1.3" fill="#111" opacity="1" filter="url(#blur1)"/>
<rect x="141.00" y="277.60" width="9" height="2.6" rx="1.3" fill="#111" opacity="1" filter="url(#blur1)"/>
<rect x="62.2" y="274.6" width="91.60000000000001" height="9.799999999999955" fill="none" stroke="#4a4a4a" stroke-width="0.9"/>
<linearGradient id="g325" x1="0" y1="0" x2="0" y2="1"><stop offset="0" stop-color="#d8d8d8"/><stop offset="1" stop-color="#c8c8c8"/></linearGradient>
<rect x="62.2" y="288.3" width="91.60000000000001" height="10.5" fill="url(#g325)"/>
<rect x="63.90" y="290.10" width="9.4" height="7.4" rx="1.5" fill="#404040" opacity="0.95" filter="url(#blur1)"/>
<rect x="74.80" y="290.10" width="9.4" height="7.4" rx="1.5" fill="#404040" opacity="0.95" filter="url(#blur1)"/>
<rect x="86.00" y="290.10" width="9.4" height="7.4" rx="1.5" fill="#404040" opacity="0.95" filter="url(#blur1)"/>
<rect x="96.60" y="290.10" width="9.4" height="7.4" rx="1.5" fill="#404040" opacity="0.95" filter="url(#blur1)"/>
<rect x="108.10" y="290.10" width="9.4" height="7.4" rx="1.5" fill="#404040" opacity="0.95" filter="url(#blur1)"/>
<rect x="119.10" y="290.10" width="9.4" height="7.4" rx="1.5" fill="#404040" opacity="0.95" filter="url(#blur1)"/>
<rect x="129.80" y="290.10" width="9.4" height="7.4" rx="1.5" fill="#404040" opacity="0.95" filter="url(#blur1)"/>
<rect x="140.80" y="290.10" width="9.4" height="7.4" rx="1.5" fill="#404040" opacity="0.95" filter="url(#blur1)"/>
<rect x="62.2" y="288.3" width="91.60000000000001" height="10.5" fill="none" stroke="#4a4a4a" stroke-width="0.9"/>
<rect x="62.2" y="302.2" width="91.60000000000001" height="9.600000000000023" fill="#f8f8f8"/>
<rect x="63.85" y="304.90" width="9.5" height="3.0" rx="1.5" fill="#0c0c0c" opacity="1" filter="url(#blur1)"/>
<rect x="74.75" y="305.70" width="9.5" height="3.0" rx="1.5" fill="#0c0c0c" opacity="1" filter="url(#blur1)"/>
<rect x="85.95" y="305.90" width="9.5" height="3.0" rx="1.5" fill="#0c0c0c" opacity="1" filter="url(#blur1)"/>
<rect x="96.55" y="306.10" width="9.5" height="3.0" rx="1.5" fill="#0c0c0c" opacity="1" filter="url(#blur1)"/>
<rect x="108.05" y="305.90" width="9.5" height="3.0" rx="1.5" fill="#0c0c0c" opacity="1" filter="url(#blur1)"/>
<rect x="119.05" y="305.50" width="9.5" height="3.0" rx="1.5" fill="#0c0c0c" opacity="1" filter="url(#blur1)"/>
<rect x="129.75" y="304.80" width="9.5" height="3.0" rx="1.5" fill="#0c0c0c" opacity="1" filter="url(#blur1)"/>
<rect x="140.75" y="303.70" width="9.5" height="3.0" rx="1.5" fill="#0c0c0c" opacity="1" filter="url(#blur1)"/>
<rect x="62.2" y="302.2" width="91.60000000000001" height="9.600000000000023" fill="none" stroke="#4a4a4a" stroke-width="0.9"/>
<text transform="translate(201.20000000000002,232.60000000000002) scale(1.12,1)" font-size="12.1" font-weight="bold" fill="#000" stroke="#000" stroke-width="0.3">H</text>
<line x1="230.3" y1="237.3" x2="230.3" y2="307.5" stroke="#231f20" stroke-width="1.25"/>
<line x1="227.3" y1="240.8" x2="230.3" y2="240.8" stroke="#231f20" stroke-width="1.25"/>
<text x="223.70000000000002" y="243.07600000000002" font-size="6.6" text-anchor="end" fill="#2a2a2a" stroke="#2a2a2a" stroke-width="0.2">1.5</text>
<line x1="227.3" y1="263.03333333333336" x2="230.3" y2="263.03333333333336" stroke="#231f20" stroke-width="1.25"/>
<text x="223.70000000000002" y="265.3093333333333" font-size="6.6" text-anchor="end" fill="#2a2a2a" stroke="#2a2a2a" stroke-width="0.2">1.0</text>
<line x1="227.3" y1="285.26666666666665" x2="230.3" y2="285.26666666666665" stroke="#231f20" stroke-width="1.25"/>
<text x="223.70000000000002" y="287.5426666666666" font-size="6.6" text-anchor="end" fill="#2a2a2a" stroke="#2a2a2a" stroke-width="0.2">0.5</text>
<line x1="227.3" y1="307.5" x2="230.3" y2="307.5" stroke="#231f20" stroke-width="1.25"/>
<text x="223.70000000000002" y="309.77599999999995" font-size="6.6" text-anchor="end" fill="#2a2a2a" stroke="#2a2a2a" stroke-width="0.2">0.0</text>
<rect x="234.9" y="246.58066666666667" width="9.799999999999983" height="60.91933333333333" fill="#6a8eb7"/>
<circle cx="237" cy="246.2" r="1.75" fill="#fff" stroke="#1f5694" stroke-width="0.9"/>
<circle cx="239.7" cy="245.5" r="1.75" fill="#fff" stroke="#1f5694" stroke-width="0.9"/>
<circle cx="242.4" cy="246.2" r="1.75" fill="#fff" stroke="#1f5694" stroke-width="0.9"/>
<circle cx="244.4" cy="246.8" r="1.75" fill="#fff" stroke="#1f5694" stroke-width="0.9"/>
<circle cx="240.4" cy="248.5" r="1.75" fill="#fff" stroke="#1f5694" stroke-width="0.9"/>
<circle cx="239.7" cy="253.6" r="1.75" fill="#fff" stroke="#1f5694" stroke-width="0.9"/>
<rect x="250.0" y="251.472" width="9.600000000000023" height="56.02799999999999" fill="#da6679"/>
<line x1="254.8" y1="249.5" x2="254.8" y2="251.472" stroke="#d0163d" stroke-width="0.9"/>
<line x1="252.8" y1="249.5" x2="256.8" y2="249.5" stroke="#d0163d" stroke-width="0.9"/>
<circle cx="254.5" cy="245.5" r="1.75" fill="#fff" stroke="#d0163d" stroke-width="0.9"/>
<circle cx="251.1" cy="252.2" r="1.75" fill="#fff" stroke="#d0163d" stroke-width="0.9"/>
<circle cx="253.8" cy="252.9" r="1.75" fill="#fff" stroke="#d0163d" stroke-width="0.9"/>
<circle cx="256.5" cy="252.9" r="1.75" fill="#fff" stroke="#d0163d" stroke-width="0.9"/>
<circle cx="254.5" cy="256.3" r="1.75" fill="#fff" stroke="#d0163d" stroke-width="0.9"/>
<line x1="230.3" y1="307.5" x2="266.0" y2="307.5" stroke="#231f20" stroke-width="1.25"/>
<line x1="239.8" y1="307.5" x2="239.8" y2="310.0" stroke="#231f20" stroke-width="1.25"/>
<line x1="254.8" y1="307.5" x2="254.8" y2="310.0" stroke="#231f20" stroke-width="1.25"/>
<text x="240.2" y="318.9" font-size="6.6" text-anchor="middle" fill="#231f20" stroke="#231f20" stroke-width="0.2">WT</text>
<text x="255.0" y="318.9" font-size="6.6" text-anchor="middle" fill="#231f20" stroke="#231f20" stroke-width="0.2">cKO</text>
<text transform="translate(207.2,271.4) rotate(-90)" font-size="7.9" text-anchor="middle" fill="#231f20" stroke="#231f20" stroke-width="0.2" textLength="55.8" lengthAdjust="spacingAndGlyphs">P-selectin/GAPDH</text>
<path d="M239.4,240.79999999999998 V237.7 H255.2 V240.79999999999998" stroke="#231f20" fill="none" stroke-width="0.9"/>
<text x="247.3" y="235.8" font-size="6.6" text-anchor="middle" fill="#231f20" stroke="#231f20" stroke-width="0.2">ns</text>
<line x1="310.3" y1="237.3" x2="310.3" y2="307.7" stroke="#231f20" stroke-width="1.25"/>
<line x1="307.3" y1="240.8" x2="310.3" y2="240.8" stroke="#231f20" stroke-width="1.25"/>
<text x="303.7" y="243.07600000000002" font-size="6.6" text-anchor="end" fill="#2a2a2a" stroke="#2a2a2a" stroke-width="0.2">1.5</text>
<line x1="307.3" y1="263.1" x2="310.3" y2="263.1" stroke="#231f20" stroke-width="1.25"/>
<text x="303.7" y="265.376" font-size="6.6" text-anchor="end" fill="#2a2a2a" stroke="#2a2a2a" stroke-width="0.2">1.0</text>
<line x1="307.3" y1="285.4" x2="310.3" y2="285.4" stroke="#231f20" stroke-width="1.25"/>
<text x="303.7" y="287.67599999999993" font-size="6.6" text-anchor="end" fill="#2a2a2a" stroke="#2a2a2a" stroke-width="0.2">0.5</text>
<line x1="307.3" y1="307.7" x2="310.3" y2="307.7" stroke="#231f20" stroke-width="1.25"/>
<text x="303.7" y="309.97599999999994" font-size="6.6" text-anchor="end" fill="#2a2a2a" stroke="#2a2a2a" stroke-width="0.2">0.0</text>
<rect x="315.4" y="255.518" width="9.400000000000034" height="52.18199999999999" fill="#6a8eb7"/>
<circle cx="316.7" cy="255.6" r="1.75" fill="#fff" stroke="#1f5694" stroke-width="0.9"/>
<circle cx="319.4" cy="256.3" r="1.75" fill="#fff" stroke="#1f5694" stroke-width="0.9"/>
<circle cx="322.1" cy="255.6" r="1.75" fill="#fff" stroke="#1f5694" stroke-width="0.9"/>
<circle cx="324.1" cy="252.9" r="1.75" fill="#fff" stroke="#1f5694" stroke-width="0.9"/>
<circle cx="320.1" cy="262.3" r="1.75" fill="#fff" stroke="#1f5694" stroke-width="0.9"/>
<circle cx="321.4" cy="259" r="1.75" fill="#fff" stroke="#1f5694" stroke-width="0.9"/>
<circle cx="318.1" cy="259" r="1.75" fill="#fff" stroke="#1f5694" stroke-width="0.9"/>
<rect x="330.0" y="307.7" width="9.5" height="0.0" fill="#da6679"/>
<circle cx="331.5" cy="307.7" r="1.75" fill="#fff" stroke="#d0163d" stroke-width="0.9"/>
<circle cx="334.5" cy="307.7" r="1.75" fill="#fff" stroke="#d0163d" stroke-width="0.9"/>
<circle cx="337.5" cy="307.7" r="1.75" fill="#fff" stroke="#d0163d" stroke-width="0.9"/>
<line x1="310.3" y1="307.7" x2="344.3" y2="307.7" stroke="#231f20" stroke-width="1.25"/>
<line x1="320.1" y1="307.7" x2="320.1" y2="310.2" stroke="#231f20" stroke-width="1.25"/>
<line x1="334.75" y1="307.7" x2="334.75" y2="310.2" stroke="#231f20" stroke-width="1.25"/>
<text x="319.6" y="319.09999999999997" font-size="6.6" text-anchor="middle" fill="#231f20" stroke="#231f20" stroke-width="0.2">WT</text>
<text x="335.0" y="319.09999999999997" font-size="6.6" text-anchor="middle" fill="#231f20" stroke="#231f20" stroke-width="0.2">cKO</text>
<text transform="translate(288.6,271.4) rotate(-90)" font-size="7.9" text-anchor="middle" fill="#231f20" stroke="#231f20" stroke-width="0.2" textLength="49" lengthAdjust="spacingAndGlyphs">LRRC8A/GAPDH</text>
<path d="M319.8,247.60000000000002 V244.8 H335.3 V247.60000000000002" stroke="#231f20" fill="none" stroke-width="0.9"/>
<text x="327.55" y="245.10000000000002" font-size="7.6" text-anchor="middle" fill="#231f20" stroke="#231f20" stroke-width="0.2">***</text>
<line x1="390.3" y1="237.3" x2="390.3" y2="307.4" stroke="#231f20" stroke-width="1.25"/>
<line x1="387.3" y1="240.8" x2="390.3" y2="240.8" stroke="#231f20" stroke-width="1.25"/>
<text x="383.7" y="243.07600000000002" font-size="6.6" text-anchor="end" fill="#2a2a2a" stroke="#2a2a2a" stroke-width="0.2">1.5</text>
<line x1="387.3" y1="263.0" x2="390.3" y2="263.0" stroke="#231f20" stroke-width="1.25"/>
<text x="383.7" y="265.27599999999995" font-size="6.6" text-anchor="end" fill="#2a2a2a" stroke="#2a2a2a" stroke-width="0.2">1.0</text>
<line x1="387.3" y1="285.2" x2="390.3" y2="285.2" stroke="#231f20" stroke-width="1.25"/>
<text x="383.7" y="287.47599999999994" font-size="6.6" text-anchor="end" fill="#2a2a2a" stroke="#2a2a2a" stroke-width="0.2">0.5</text>
<line x1="387.3" y1="307.4" x2="390.3" y2="307.4" stroke="#231f20" stroke-width="1.25"/>
<text x="383.7" y="309.67599999999993" font-size="6.6" text-anchor="end" fill="#2a2a2a" stroke="#2a2a2a" stroke-width="0.2">0.0</text>
<rect x="395.4" y="262.112" width="9.400000000000034" height="45.287999999999954" fill="#6a8eb7"/>
<line x1="400.1" y1="257.9" x2="400.1" y2="262.112" stroke="#1f5694" stroke-width="0.9"/>
<line x1="398.1" y1="257.9" x2="402.1" y2="257.9" stroke="#1f5694" stroke-width="0.9"/>
<circle cx="400.4" cy="252.5" r="1.75" fill="#fff" stroke="#1f5694" stroke-width="0.9"/>
<circle cx="400.4" cy="259" r="1.75" fill="#fff" stroke="#1f5694" stroke-width="0.9"/>
<circle cx="397" cy="268.4" r="1.75" fill="#fff" stroke="#1f5694" stroke-width="0.9"/>
<circle cx="403.8" cy="268.1" r="1.75" fill="#fff" stroke="#1f5694" stroke-width="0.9"/>
<rect x="410.2" y="259.892" width="9.699999999999989" height="47.50799999999998" fill="#da6679"/>
<circle cx="411.8" cy="259.2" r="1.75" fill="#fff" stroke="#d0163d" stroke-width="0.9"/>
<circle cx="415.2" cy="258.3" r="1.75" fill="#fff" stroke="#d0163d" stroke-width="0.9"/>
<circle cx="419.2" cy="257.9" r="1.75" fill="#fff" stroke="#d0163d" stroke-width="0.9"/>
<circle cx="411.8" cy="262.3" r="1.75" fill="#fff" stroke="#d0163d" stroke-width="0.9"/>
<circle cx="415.9" cy="262.3" r="1.75" fill="#fff" stroke="#d0163d" stroke-width="0.9"/>
<circle cx="419.2" cy="261.6" r="1.75" fill="#fff" stroke="#d0163d" stroke-width="0.9"/>
<line x1="390.3" y1="307.4" x2="424.6" y2="307.4" stroke="#231f20" stroke-width="1.25"/>
<line x1="400.1" y1="307.4" x2="400.1" y2="309.9" stroke="#231f20" stroke-width="1.25"/>
<line x1="415.04999999999995" y1="307.4" x2="415.04999999999995" y2="309.9" stroke="#231f20" stroke-width="1.25"/>
<text x="400.4" y="318.79999999999995" font-size="6.6" text-anchor="middle" fill="#231f20" stroke="#231f20" stroke-width="0.2">WT</text>
<text x="415.6" y="318.79999999999995" font-size="6.6" text-anchor="middle" fill="#231f20" stroke="#231f20" stroke-width="0.2">cKO</text>
<text transform="translate(368.8,271.4) rotate(-90)" font-size="7.9" text-anchor="middle" fill="#231f20" stroke="#231f20" stroke-width="0.2" textLength="61" lengthAdjust="spacingAndGlyphs">Integrin β3/GAPDH</text>
<path d="M400.4,246.79999999999998 V244.2 H415.6 V246.79999999999998" stroke="#231f20" fill="none" stroke-width="0.9"/>
<text x="408.0" y="242.3" font-size="6.6" text-anchor="middle" fill="#231f20" stroke="#231f20" stroke-width="0.2">ns</text>
<text x="198.0" y="342.3" font-size="9.5" text-anchor="middle" fill="#231f20" stroke="#231f20" stroke-width="0.1" textLength="51" lengthAdjust="spacingAndGlyphs">Whole blood</text>
<line x1="83.8" y1="347.2" x2="303.3" y2="347.2" stroke="#727272" stroke-width="1.9"/>
<text x="383.7" y="342.1" font-size="9.5" text-anchor="middle" fill="#231f20" stroke="#231f20" stroke-width="0.1" textLength="69.3" lengthAdjust="spacingAndGlyphs">Washed platelets</text>
<line x1="340.6" y1="347.2" x2="437.0" y2="347.2" stroke="#727272" stroke-width="1.9"/>
<text transform="translate(96.5,360.2) scale(1.12,1)" font-size="12.1" font-weight="bold" fill="#000" stroke="#000" stroke-width="0.3">I</text>
<line x1="116.8" y1="374.0" x2="116.8" y2="443.6" stroke="#231f20" stroke-width="1.25"/>
<line x1="113.8" y1="376.3" x2="116.8" y2="376.3" stroke="#231f20" stroke-width="1.25"/>
<text x="109.89999999999999" y="378.57599999999996" font-size="6.6" text-anchor="end" fill="#2a2a2a" stroke="#2a2a2a" stroke-width="0.2">6</text>
<line x1="113.8" y1="399.0" x2="116.8" y2="399.0" stroke="#231f20" stroke-width="1.25"/>
<text x="109.89999999999999" y="401.27599999999995" font-size="6.6" text-anchor="end" fill="#2a2a2a" stroke="#2a2a2a" stroke-width="0.2">4</text>
<line x1="113.8" y1="421.2" x2="116.8" y2="421.2" stroke="#231f20" stroke-width="1.25"/>
<text x="109.89999999999999" y="423.47599999999994" font-size="6.6" text-anchor="end" fill="#2a2a2a" stroke="#2a2a2a" stroke-width="0.2">2</text>
<line x1="113.8" y1="443.6" x2="116.8" y2="443.6" stroke="#231f20" stroke-width="1.25"/>
<text x="109.89999999999999" y="445.876" font-size="6.6" text-anchor="end" fill="#2a2a2a" stroke="#2a2a2a" stroke-width="0.2">0</text>
<rect x="123.7" y="392.9" width="11.499999999999986" height="50.700000000000045" fill="#6a8eb7"/>
<circle cx="124.8" cy="393.4" r="1.7" fill="#fff" stroke="#1f5694" stroke-width="0.9"/>
<circle cx="127.5" cy="392.2" r="1.7" fill="#fff" stroke="#1f5694" stroke-width="0.9"/>
<circle cx="130.0" cy="392.8" r="1.7" fill="#fff" stroke="#1f5694" stroke-width="0.9"/>
<circle cx="131.5" cy="391.0" r="1.7" fill="#fff" stroke="#1f5694" stroke-width="0.9"/>
<circle cx="133.5" cy="393.8" r="1.7" fill="#fff" stroke="#1f5694" stroke-width="0.9"/>
<circle cx="129" cy="394.5" r="1.7" fill="#fff" stroke="#1f5694" stroke-width="0.9"/>
<rect x="142.3" y="379.8" width="11.299999999999983" height="63.80000000000001" fill="#da6679"/>
<circle cx="143.6" cy="378.0" r="1.7" fill="#fff" stroke="#d0163d" stroke-width="0.9"/>
<circle cx="146.2" cy="379.5" r="1.7" fill="#fff" stroke="#d0163d" stroke-width="0.9"/>
<circle cx="149.0" cy="378.3" r="1.7" fill="#fff" stroke="#d0163d" stroke-width="0.9"/>
<circle cx="151.8" cy="379.2" r="1.7" fill="#fff" stroke="#d0163d" stroke-width="0.9"/>
<circle cx="144.0" cy="382.5" r="1.7" fill="#fff" stroke="#d0163d" stroke-width="0.9"/>
<circle cx="147.5" cy="381.5" r="1.7" fill="#fff" stroke="#d0163d" stroke-width="0.9"/>
<circle cx="150.8" cy="382.0" r="1.7" fill="#fff" stroke="#d0163d" stroke-width="0.9"/>
<circle cx="152.6" cy="381.0" r="1.7" fill="#fff" stroke="#d0163d" stroke-width="0.9"/>
<circle cx="143.2" cy="386.0" r="1.7" fill="#fff" stroke="#d0163d" stroke-width="0.9"/>
<circle cx="148.0" cy="385.0" r="1.7" fill="#fff" stroke="#d0163d" stroke-width="0.9"/>
<rect x="161.0" y="394.0" width="11.300000000000011" height="49.60000000000002" fill="#80c480"/>
<circle cx="162.8" cy="394.0" r="1.7" fill="#fff" stroke="#3a9a3a" stroke-width="0.9"/>
<circle cx="165.5" cy="393.7" r="1.7" fill="#fff" stroke="#3a9a3a" stroke-width="0.9"/>
<circle cx="168.2" cy="393.3" r="1.7" fill="#fff" stroke="#3a9a3a" stroke-width="0.9"/>
<circle cx="171.0" cy="393.8" r="1.7" fill="#fff" stroke="#3a9a3a" stroke-width="0.9"/>
<line x1="116.8" y1="443.6" x2="177.3" y2="443.6" stroke="#231f20" stroke-width="1.25"/>
<line x1="129.45" y1="443.6" x2="129.45" y2="446.1" stroke="#231f20" stroke-width="1.25"/>
<line x1="147.95" y1="443.6" x2="147.95" y2="446.1" stroke="#231f20" stroke-width="1.25"/>
<line x1="166.65" y1="443.6" x2="166.65" y2="446.1" stroke="#231f20" stroke-width="1.25"/>
<text x="129.2" y="455.8" font-size="6.6" text-anchor="middle" fill="#231f20" stroke="#231f20" stroke-width="0.2">WT</text>
<text x="148.0" y="455.8" font-size="6.6" text-anchor="middle" fill="#231f20" stroke="#231f20" stroke-width="0.2">cKO</text>
<text x="166.6" y="455.8" font-size="6.6" text-anchor="middle" fill="#231f20" stroke="#231f20" stroke-width="0.2">cHet</text>
<path d="M129.4,376.0 V373.5 H148.0 V376.0" stroke="#231f20" fill="none" stroke-width="0.9"/>
<text x="138.7" y="373.8" font-size="7.2" text-anchor="middle" fill="#231f20" stroke="#231f20" stroke-width="0.2">***</text>
<path d="M148.0,367.9 V365.4 H166.6 V367.9" stroke="#231f20" fill="none" stroke-width="0.9"/>
<text x="157.3" y="365.7" font-size="7.2" text-anchor="middle" fill="#231f20" stroke="#231f20" stroke-width="0.2">***</text>
<text transform="translate(101.0,407.5) rotate(-90)" font-size="7.2" text-anchor="middle" fill="#231f20" stroke="#231f20" stroke-width="0.2" textLength="25" lengthAdjust="spacingAndGlyphs">MPV (fL)</text>
<text transform="translate(195.20000000000002,360.6) scale(1.12,1)" font-size="12.1" font-weight="bold" fill="#000" stroke="#000" stroke-width="0.3">J</text>
<line x1="240.7" y1="373.0" x2="240.7" y2="443.0" stroke="#231f20" stroke-width="1.25"/>
<line x1="237.7" y1="375.0" x2="240.7" y2="375.0" stroke="#231f20" stroke-width="1.25"/>
<text x="233.79999999999998" y="377.27599999999995" font-size="6.6" text-anchor="end" fill="#2a2a2a" stroke="#2a2a2a" stroke-width="0.2">2000</text>
<line x1="237.7" y1="392.0" x2="240.7" y2="392.0" stroke="#231f20" stroke-width="1.25"/>
<text x="233.79999999999998" y="394.27599999999995" font-size="6.6" text-anchor="end" fill="#2a2a2a" stroke="#2a2a2a" stroke-width="0.2">1500</text>
<line x1="237.7" y1="409.2" x2="240.7" y2="409.2" stroke="#231f20" stroke-width="1.25"/>
<text x="233.79999999999998" y="411.47599999999994" font-size="6.6" text-anchor="end" fill="#2a2a2a" stroke="#2a2a2a" stroke-width="0.2">1000</text>
<line x1="237.7" y1="426.1" x2="240.7" y2="426.1" stroke="#231f20" stroke-width="1.25"/>
<text x="233.79999999999998" y="428.376" font-size="6.6" text-anchor="end" fill="#2a2a2a" stroke="#2a2a2a" stroke-width="0.2">500</text>
<line x1="237.7" y1="443.0" x2="240.7" y2="443.0" stroke="#231f20" stroke-width="1.25"/>
<text x="233.79999999999998" y="445.27599999999995" font-size="6.6" text-anchor="end" fill="#2a2a2a" stroke="#2a2a2a" stroke-width="0.2">0</text>
<rect x="247.3" y="404.4" width="11.300000000000011" height="38.60000000000002" fill="#6a8eb7"/>
<line x1="252.95000000000002" y1="400.0" x2="252.95000000000002" y2="408.5" stroke="#1f5694" stroke-width="0.9"/>
<line x1="250.95000000000002" y1="400.0" x2="254.95000000000002" y2="400.0" stroke="#1f5694" stroke-width="0.9"/>
<circle cx="253" cy="392.8" r="1.7" fill="#fff" stroke="#1f5694" stroke-width="0.9"/>
<circle cx="250.3" cy="397.7" r="1.7" fill="#fff" stroke="#1f5694" stroke-width="0.9"/>
<circle cx="255.6" cy="399.1" r="1.7" fill="#fff" stroke="#1f5694" stroke-width="0.9"/>
<circle cx="252.4" cy="401.3" r="1.7" fill="#fff" stroke="#1f5694" stroke-width="0.9"/>
<circle cx="256.6" cy="403.4" r="1.7" fill="#fff" stroke="#1f5694" stroke-width="0.9"/>
<circle cx="251.4" cy="405.5" r="1.7" fill="#fff" stroke="#1f5694" stroke-width="0.9"/>
<circle cx="253.5" cy="410.8" r="1.7" fill="#fff" stroke="#1f5694" stroke-width="0.9"/>
<circle cx="254.5" cy="416" r="1.7" fill="#fff" stroke="#1f5694" stroke-width="0.9"/>
<rect x="265.6" y="412.5" width="11.399999999999977" height="30.5" fill="#da6679"/>
<line x1="271.3" y1="409.5" x2="271.3" y2="415.5" stroke="#d0163d" stroke-width="0.9"/>
<line x1="269.3" y1="409.5" x2="273.3" y2="409.5" stroke="#d0163d" stroke-width="0.9"/>
<circle cx="271.4" cy="399.8" r="1.7" fill="#fff" stroke="#d0163d" stroke-width="0.9"/>
<circle cx="268.3" cy="410.8" r="1.7" fill="#fff" stroke="#d0163d" stroke-width="0.9"/>
<circle cx="273.6" cy="411.8" r="1.7" fill="#fff" stroke="#d0163d" stroke-width="0.9"/>
<circle cx="275.7" cy="413.3" r="1.7" fill="#fff" stroke="#d0163d" stroke-width="0.9"/>
<circle cx="270.4" cy="414" r="1.7" fill="#fff" stroke="#d0163d" stroke-width="0.9"/>
<circle cx="266.2" cy="412.9" r="1.7" fill="#fff" stroke="#d0163d" stroke-width="0.9"/>
<circle cx="276.7" cy="410.8" r="1.7" fill="#fff" stroke="#d0163d" stroke-width="0.9"/>
<circle cx="272.5" cy="407.6" r="1.7" fill="#fff" stroke="#d0163d" stroke-width="0.9"/>
<circle cx="271.4" cy="403.4" r="1.7" fill="#fff" stroke="#d0163d" stroke-width="0.9"/>
<rect x="283.7" y="414.7" width="11.5" height="28.30000000000001" fill="#80c480"/>
<line x1="289.45" y1="411.5" x2="289.45" y2="418" stroke="#3a9a3a" stroke-width="0.9"/>
<line x1="287.45" y1="411.5" x2="291.45" y2="411.5" stroke="#3a9a3a" stroke-width="0.9"/>
<circle cx="287.3" cy="410.3" r="1.7" fill="#fff" stroke="#3a9a3a" stroke-width="0.9"/>
<circle cx="292.6" cy="410.8" r="1.7" fill="#fff" stroke="#3a9a3a" stroke-width="0.9"/>
<circle cx="290.5" cy="417.1" r="1.7" fill="#fff" stroke="#3a9a3a" stroke-width="0.9"/>
<line x1="240.7" y1="443.0" x2="298.5" y2="443.0" stroke="#231f20" stroke-width="1.25"/>
<line x1="252.95000000000002" y1="443.0" x2="252.95000000000002" y2="445.5" stroke="#231f20" stroke-width="1.25"/>
<line x1="271.3" y1="443.0" x2="271.3" y2="445.5" stroke="#231f20" stroke-width="1.25"/>
<line x1="289.45" y1="443.0" x2="289.45" y2="445.5" stroke="#231f20" stroke-width="1.25"/>
<text x="253.0" y="455.3" font-size="6.6" text-anchor="middle" fill="#231f20" stroke="#231f20" stroke-width="0.2">WT</text>
<text x="271.3" y="455.3" font-size="6.6" text-anchor="middle" fill="#231f20" stroke="#231f20" stroke-width="0.2">cKO</text>
<text x="289.5" y="455.3" font-size="6.6" text-anchor="middle" fill="#231f20" stroke="#231f20" stroke-width="0.2">cHet</text>
<line x1="252.7" y1="387.6" x2="290.4" y2="387.6" stroke="#231f20" stroke-width="1.0"/>
<text x="271.3" y="385.0" font-size="6.4" text-anchor="middle" fill="#231f20" stroke="#231f20" stroke-width="0.2">ns</text>
<text transform="translate(203.0,407.9) rotate(-90)" font-size="7.9" text-anchor="middle" fill="#231f20" stroke="#231f20" stroke-width="0.2" textLength="46.3" lengthAdjust="spacingAndGlyphs">Platelets count</text>
<text transform="translate(212.6,406.9) rotate(-90)" font-size="7.8" text-anchor="middle" fill="#231f20" stroke="#231f20" stroke-width="0.2" textLength="35" lengthAdjust="spacingAndGlyphs">(1X10<tspan font-size="5" dy="-2.6">3</tspan><tspan dy="2.6">/μL</tspan></text>
<text transform="translate(340.9,361.0) scale(1.12,1)" font-size="12.1" font-weight="bold" fill="#000" stroke="#000" stroke-width="0.3">K</text>
<line x1="364.8" y1="373.5" x2="364.8" y2="443.0" stroke="#231f20" stroke-width="1.25"/>
<line x1="361.8" y1="375.6" x2="364.8" y2="375.6" stroke="#231f20" stroke-width="1.25"/>
<text x="357.90000000000003" y="377.876" font-size="6.6" text-anchor="end" fill="#2a2a2a" stroke="#2a2a2a" stroke-width="0.2">8</text>
<line x1="361.8" y1="392.4" x2="364.8" y2="392.4" stroke="#231f20" stroke-width="1.25"/>
<text x="357.90000000000003" y="394.67599999999993" font-size="6.6" text-anchor="end" fill="#2a2a2a" stroke="#2a2a2a" stroke-width="0.2">6</text>
<line x1="361.8" y1="409.3" x2="364.8" y2="409.3" stroke="#231f20" stroke-width="1.25"/>
<text x="357.90000000000003" y="411.57599999999996" font-size="6.6" text-anchor="end" fill="#2a2a2a" stroke="#2a2a2a" stroke-width="0.2">4</text>
<line x1="361.8" y1="426.2" x2="364.8" y2="426.2" stroke="#231f20" stroke-width="1.25"/>
<text x="357.90000000000003" y="428.47599999999994" font-size="6.6" text-anchor="end" fill="#2a2a2a" stroke="#2a2a2a" stroke-width="0.2">2</text>
<line x1="361.8" y1="443.0" x2="364.8" y2="443.0" stroke="#231f20" stroke-width="1.25"/>
<text x="357.90000000000003" y="445.27599999999995" font-size="6.6" text-anchor="end" fill="#2a2a2a" stroke="#2a2a2a" stroke-width="0.2">0</text>
<rect x="373.8" y="393.7" width="17.599999999999966" height="49.30000000000001" fill="#6a8eb7"/>
<circle cx="379.85179113139736" cy="391.05984029136965" r="1.7" fill="#fff" stroke="#1f5694" stroke-width="0.9"/>
<circle cx="384.95457777942175" cy="390.612886834005" r="1.7" fill="#fff" stroke="#1f5694" stroke-width="0.9"/>
<circle cx="383.15975926718437" cy="392.2844268264017" r="1.7" fill="#fff" stroke="#1f5694" stroke-width="0.9"/>
<circle cx="375.70478322648546" cy="393.0923836791797" r="1.7" fill="#fff" stroke="#1f5694" stroke-width="0.9"/>
<circle cx="375.384932271695" cy="392.6717803968756" r="1.7" fill="#fff" stroke="#1f5694" stroke-width="0.9"/>
<circle cx="375.88974460776404" cy="390.71706417606003" r="1.7" fill="#fff" stroke="#1f5694" stroke-width="0.9"/>
<circle cx="381.42249935062324" cy="394.91305711063063" r="1.7" fill="#fff" stroke="#1f5694" stroke-width="0.9"/>
<circle cx="376.7313105939345" cy="391.47246209826" r="1.7" fill="#fff" stroke="#1f5694" stroke-width="0.9"/>
<circle cx="384.5879582695272" cy="395.6019409720049" r="1.7" fill="#fff" stroke="#1f5694" stroke-width="0.9"/>
<circle cx="383.802805998433" cy="392.4610787055094" r="1.7" fill="#fff" stroke="#1f5694" stroke-width="0.9"/>
<circle cx="390.0295796472496" cy="390.4655212795212" r="1.7" fill="#fff" stroke="#1f5694" stroke-width="0.9"/>
<circle cx="388.1921079611594" cy="391.85077293209054" r="1.7" fill="#fff" stroke="#1f5694" stroke-width="0.9"/>
<circle cx="377.05037930037605" cy="390.8714157570467" r="1.7" fill="#fff" stroke="#1f5694" stroke-width="0.9"/>
<circle cx="379.6123164559902" cy="394.85192024698415" r="1.7" fill="#fff" stroke="#1f5694" stroke-width="0.9"/>
<circle cx="377.6193315268134" cy="393.5151209328761" r="1.7" fill="#fff" stroke="#1f5694" stroke-width="0.9"/>
<circle cx="384.7670501152485" cy="392.32266599353665" r="1.7" fill="#fff" stroke="#1f5694" stroke-width="0.9"/>
<rect x="399.4" y="381.5" width="17.600000000000023" height="61.5" fill="#da6679"/>
<circle cx="409.0352647719272" cy="377.47091731229995" r="1.7" fill="#fff" stroke="#d0163d" stroke-width="0.9"/>
<circle cx="401.51785801748" cy="378.54469034614493" r="1.7" fill="#fff" stroke="#d0163d" stroke-width="0.9"/>
<circle cx="411.0781595869995" cy="380.2069422925205" r="1.7" fill="#fff" stroke="#d0163d" stroke-width="0.9"/>
<circle cx="405.43786642380263" cy="381.3917139763073" r="1.7" fill="#fff" stroke="#d0163d" stroke-width="0.9"/>
<circle cx="407.57903939611" cy="379.2482524764776" r="1.7" fill="#fff" stroke="#d0163d" stroke-width="0.9"/>
<circle cx="412.8334440154464" cy="382.2424582529718" r="1.7" fill="#fff" stroke="#d0163d" stroke-width="0.9"/>
<circle cx="404.35908626512116" cy="381.30817782694004" r="1.7" fill="#fff" stroke="#d0163d" stroke-width="0.9"/>
<circle cx="408.6880261586964" cy="383.5635312168007" r="1.7" fill="#fff" stroke="#d0163d" stroke-width="0.9"/>
<circle cx="411.833457457364" cy="379.1595332366764" r="1.7" fill="#fff" stroke="#d0163d" stroke-width="0.9"/>
<circle cx="415.69469265138576" cy="377.8854933369122" r="1.7" fill="#fff" stroke="#d0163d" stroke-width="0.9"/>
<circle cx="407.0390914554925" cy="382.6785569717394" r="1.7" fill="#fff" stroke="#d0163d" stroke-width="0.9"/>
<circle cx="402.9405618337718" cy="380.6672232535685" r="1.7" fill="#fff" stroke="#d0163d" stroke-width="0.9"/>
<circle cx="401.20379175853054" cy="382.01161892400796" r="1.7" fill="#fff" stroke="#d0163d" stroke-width="0.9"/>
<circle cx="412.37439133967735" cy="381.2976945520804" r="1.7" fill="#fff" stroke="#d0163d" stroke-width="0.9"/>
<circle cx="414.0823583021957" cy="379.35310634636073" r="1.7" fill="#fff" stroke="#d0163d" stroke-width="0.9"/>
<circle cx="411.30754864061436" cy="381.4577740782876" r="1.7" fill="#fff" stroke="#d0163d" stroke-width="0.9"/>
<circle cx="409.5303861459504" cy="380.4215399847606" r="1.7" fill="#fff" stroke="#d0163d" stroke-width="0.9"/>
<circle cx="413.53550381989317" cy="384.0851082133095" r="1.7" fill="#fff" stroke="#d0163d" stroke-width="0.9"/>
<circle cx="407.9011143962625" cy="381.9811415410601" r="1.7" fill="#fff" stroke="#d0163d" stroke-width="0.9"/>
<circle cx="401.5343091849972" cy="382.26119015978315" r="1.7" fill="#fff" stroke="#d0163d" stroke-width="0.9"/>
<line x1="364.8" y1="443.0" x2="419.6" y2="443.0" stroke="#231f20" stroke-width="1.25"/>
<line x1="382.6" y1="443.0" x2="382.6" y2="445.5" stroke="#231f20" stroke-width="1.25"/>
<line x1="408.2" y1="443.0" x2="408.2" y2="445.5" stroke="#231f20" stroke-width="1.25"/>
<text x="382.6" y="454.8" font-size="6.6" text-anchor="middle" fill="#231f20" stroke="#231f20" stroke-width="0.2">WT</text>
<text x="408.4" y="454.8" font-size="6.6" text-anchor="middle" fill="#231f20" stroke="#231f20" stroke-width="0.2">cKO</text>
<path d="M382.6,372.7 V370.2 H408.2 V372.7" stroke="#231f20" fill="none" stroke-width="0.9"/>
<text x="395.4" y="370.40000000000003" font-size="7.2" text-anchor="middle" fill="#231f20" stroke="#231f20" stroke-width="0.2">***</text>
<text transform="translate(348.3,406.5) rotate(-90)" font-size="7.6" text-anchor="middle" fill="#231f20" stroke="#231f20" stroke-width="0.2" textLength="28" lengthAdjust="spacingAndGlyphs">MPV (fL)</text>
<text x="221.5" y="478.6" font-size="9.5" text-anchor="middle" fill="#231f20" stroke="#231f20" stroke-width="0.1" textLength="45" lengthAdjust="spacingAndGlyphs">Murine MK</text>
<line x1="7.2" y1="483.3" x2="445.0" y2="483.3" stroke="#5a5a5a" stroke-width="1.9"/>
<text transform="translate(16.7,497.1) scale(1.12,1)" font-size="12.1" font-weight="bold" fill="#000" stroke="#000" stroke-width="0.3">L</text>
<text x="93.1" y="504.6" font-size="6.8" text-anchor="middle" fill="#3b5478" stroke="#3b5478" stroke-width="0.2">WT</text>
<text x="234.6" y="504.6" font-size="6.8" text-anchor="middle" fill="#d2406a" stroke="#d2406a" stroke-width="0.2">cKO</text>
<linearGradient id="pipCone" x1="0" y1="0" x2="1" y2="0">
<stop offset="0" stop-color="#fff" stop-opacity="0"/>
<stop offset="0.2" stop-color="#fff" stop-opacity="0.20"/>
<stop offset="0.4" stop-color="#fff" stop-opacity="0.16"/>
<stop offset="0.6" stop-color="#fff" stop-opacity="0.16"/>
<stop offset="0.8" stop-color="#fff" stop-opacity="0.20"/>
<stop offset="1" stop-color="#fff" stop-opacity="0"/>
</linearGradient>
<linearGradient id="pipCore" x1="0" y1="0" x2="1" y2="0">
<stop offset="0" stop-color="#000" stop-opacity="0"/>
<stop offset="0.3" stop-color="#000" stop-opacity="0.3"/>
<stop offset="0.6" stop-color="#000" stop-opacity="0.6"/>
<stop offset="1" stop-color="#000" stop-opacity="0"/>
</linearGradient>
<radialGradient id="cellIn" cx="0.5" cy="0.5" r="0.5">
<stop offset="0" stop-color="#fff" stop-opacity="0.10"/>
<stop offset="0.8" stop-color="#fff" stop-opacity="0.16"/>
<stop offset="1" stop-color="#fff" stop-opacity="0.04"/>
</radialGradient>
<line x1="26.2" y1="507.2" x2="160.0" y2="507.2" stroke="#6c6c6c" stroke-width="1.6"/>
<line x1="166.7" y1="507.2" x2="301.5" y2="507.2" stroke="#6c6c6c" stroke-width="1.6"/>
<svg x="26.2" y="508.0" width="66.8" height="62.700000000000045" viewBox="26.2 508.0 66.8 62.700000000000045" overflow="hidden">
<rect x="26.2" y="508.0" width="66.8" height="62.700000000000045" fill="#8e8c8b"/>
<path d="M39.4,508.0 L73.2,508.0 L59.0,530.0 L56.0,530.0 Z" stroke="none" fill="url(#pipCone)" stroke-width="1" filter="url(#blur2)"/>
<path d="M52.9,508.0 L62.1,508.0 L58.5,530.0 L56.5,530.0 Z" stroke="none" fill="url(#pipCore)" stroke-width="1" filter="url(#blur1)"/>
<line x1="57.5" y1="526.0" x2="57.5" y2="535.2" stroke="#2a2a2a" stroke-width="1.1" opacity="0.75"/>
<circle cx="58.2" cy="542.1" r="6.9" fill="url(#cellIn)" stroke="#262626" stroke-width="1.1" opacity="1"/>
<circle cx="58.5" cy="542.8" r="3.0" fill="none" stroke="#666" stroke-width="0.6" opacity="0.5"/>
<path d="M70,548 L80,560" stroke="#777" stroke-width="2.5" opacity="0.35" filter="url(#blur1)"/>
<text x="29.5" y="567.3000000000001" font-size="6.8" text-anchor="start" fill="#fff" stroke="#fff" stroke-width="0.2">ISO</text>
</svg>
<svg x="94.2" y="508.0" width="65.60000000000001" height="62.700000000000045" viewBox="94.2 508.0 65.60000000000001 62.700000000000045" overflow="hidden">
<rect x="94.2" y="508.0" width="65.60000000000001" height="62.700000000000045" fill="#918d8c"/>
<path d="M110.0,508.0 L137.5,508.0 L127.0,530.5 L124.0,530.5 Z" stroke="none" fill="url(#pipCone)" stroke-width="1" filter="url(#blur2)"/>
<path d="M121.1,508.0 L129.9,508.0 L126.5,530.5 L124.5,530.5 Z" stroke="none" fill="url(#pipCore)" stroke-width="1" filter="url(#blur1)"/>
<line x1="125.5" y1="526.5" x2="125.5" y2="533.0" stroke="#2a2a2a" stroke-width="1.1" opacity="0.75"/>
<circle cx="124.6" cy="541.4" r="9.8" fill="url(#cellIn)" stroke="#6a6a6a" stroke-width="0.9" opacity="1"/>
<circle cx="124.8" cy="542.5" r="5.2" fill="none" stroke="#666" stroke-width="0.6" opacity="0.6"/>
<path d="M136,566 L144,552" stroke="#777" stroke-width="2" opacity="0.3" filter="url(#blur1)"/>
<path d="M122,536 L122,548 M127,537 L127,549" stroke="#555" stroke-width="1" opacity="0.5"/>
<text x="97.5" y="567.3000000000001" font-size="6.8" text-anchor="start" fill="#fff" stroke="#fff" stroke-width="0.2">HYPO</text>
</svg>
<svg x="167.3" y="508.0" width="67.29999999999998" height="62.799999999999955" viewBox="167.3 508.0 67.29999999999998 62.799999999999955" overflow="hidden">
<rect x="167.3" y="508.0" width="67.29999999999998" height="62.799999999999955" fill="#6e6b69"/>
<path d="M187.0,508.0 L213.0,508.0 L201.8,530.0 L198.8,530.0 Z" stroke="none" fill="url(#pipCone)" stroke-width="1" filter="url(#blur2)"/>
<path d="M196.10000000000002,508.0 L204.5,508.0 L201.3,530.0 L199.3,530.0 Z" stroke="none" fill="url(#pipCore)" stroke-width="1" filter="url(#blur1)"/>
<line x1="200.3" y1="526.0" x2="200.3" y2="533.5" stroke="#2a2a2a" stroke-width="1.1" opacity="0.75"/>
<circle cx="201.7" cy="541.7" r="8.6" fill="url(#cellIn)" stroke="#2a2a2a" stroke-width="1.1" opacity="1"/>
<circle cx="201.5" cy="543.5" r="4.0" fill="none" stroke="#444" stroke-width="0.6" opacity="0.6"/>
<circle cx="183.0" cy="514.4" r="2.5" fill="#9a9a9a" stroke="#2e2e2e" stroke-width="0.9" opacity="0.85"/>
<circle cx="231.5" cy="515.4" r="2.6" fill="#9a9a9a" stroke="#2e2e2e" stroke-width="0.9" opacity="0.85"/>
<circle cx="171.2" cy="513.3" r="2.4" fill="none" stroke="#444" stroke-width="0.7" opacity="0.45"/>
<circle cx="172.0" cy="525.0" r="1.4" fill="#2a2a2a" opacity="0.8"/>
<circle cx="217.6" cy="526.5" r="2.5" fill="#9a9a9a" stroke="#2e2e2e" stroke-width="0.9" opacity="0.85"/>
<circle cx="214.2" cy="536.9" r="2.5" fill="#9a9a9a" stroke="#2e2e2e" stroke-width="0.9" opacity="0.85"/>
<circle cx="212.8" cy="530.6" r="1.5" fill="none" stroke="#444" stroke-width="0.7" opacity="0.45"/>
<circle cx="196.2" cy="564.6" r="1.8" fill="#2a2a2a" opacity="0.8"/>
<circle cx="219.7" cy="566.0" r="2.6" fill="#9a9a9a" stroke="#2e2e2e" stroke-width="0.9" opacity="0.85"/>
<circle cx="187.2" cy="569.6" r="1.6" fill="#2a2a2a" opacity="0.8"/>
<text x="170.60000000000002" y="567.4" font-size="6.8" text-anchor="start" fill="#fff" stroke="#fff" stroke-width="0.2">ISO</text>
</svg>
<svg x="235.6" y="508.0" width="65.9" height="62.799999999999955" viewBox="235.6 508.0 65.9 62.799999999999955" overflow="hidden">
<rect x="235.6" y="508.0" width="65.9" height="62.799999999999955" fill="#6d6a68"/>
<path d="M255.0,508.0 L280.0,508.0 L268.8,530.5 L265.8,530.5 Z" stroke="none" fill="url(#pipCone)" stroke-width="1" filter="url(#blur2)"/>
<path d="M263.1,508.0 L271.5,508.0 L268.3,530.5 L266.3,530.5 Z" stroke="none" fill="url(#pipCore)" stroke-width="1" filter="url(#blur1)"/>
<line x1="267.3" y1="526.5" x2="267.3" y2="534.8" stroke="#2a2a2a" stroke-width="1.1" opacity="0.75"/>
<circle cx="268.7" cy="539.6" r="11.8" fill="url(#cellIn)" stroke="#9a9a9a" stroke-width="1.0" opacity="0.8"/>
<circle cx="268.2" cy="541.5" r="6.2" fill="none" stroke="#444" stroke-width="0.8" opacity="0.7"/>
<circle cx="283.2" cy="521.6" r="3.0" fill="#9a9a9a" stroke="#2e2e2e" stroke-width="0.9" opacity="0.85"/>
<circle cx="279.0" cy="525.8" r="1.8" fill="none" stroke="#444" stroke-width="0.7" opacity="0.45"/>
<circle cx="297.0" cy="511.2" r="2.5" fill="#9a9a9a" stroke="#2e2e2e" stroke-width="0.9" opacity="0.85"/>
<circle cx="284.6" cy="536.9" r="2.0" fill="none" stroke="#444" stroke-width="0.7" opacity="0.45"/>
<circle cx="261.8" cy="559.7" r="1.8" fill="#2a2a2a" opacity="0.8"/>
<circle cx="286.7" cy="560.4" r="3.0" fill="#9a9a9a" stroke="#2e2e2e" stroke-width="0.9" opacity="0.85"/>
<circle cx="237.5" cy="520.2" r="1.2" fill="#2a2a2a" opacity="0.8"/>
<circle cx="237.0" cy="512.5" r="2.0" fill="none" stroke="#444" stroke-width="0.7" opacity="0.45"/>
<text x="238.9" y="567.4" font-size="6.8" text-anchor="start" fill="#fff" stroke="#fff" stroke-width="0.2">HYPO</text>
</svg>
<text transform="translate(342.09999999999997,496.0) scale(1.12,1)" font-size="12.1" font-weight="bold" fill="#000" stroke="#000" stroke-width="0.3">M</text>
<line x1="374.6" y1="500.5" x2="374.6" y2="569.4" stroke="#231f20" stroke-width="1.25"/>
<line x1="371.6" y1="502.7" x2="374.6" y2="502.7" stroke="#231f20" stroke-width="1.25"/>
<text x="367.70000000000005" y="504.97599999999994" font-size="6.6" text-anchor="end" fill="#2a2a2a" stroke="#2a2a2a" stroke-width="0.2">300</text>
<line x1="371.6" y1="525.1" x2="374.6" y2="525.1" stroke="#231f20" stroke-width="1.25"/>
<text x="367.70000000000005" y="527.376" font-size="6.6" text-anchor="end" fill="#2a2a2a" stroke="#2a2a2a" stroke-width="0.2">200</text>
<line x1="371.6" y1="547.3" x2="374.6" y2="547.3" stroke="#231f20" stroke-width="1.25"/>
<text x="367.70000000000005" y="549.5759999999999" font-size="6.6" text-anchor="end" fill="#2a2a2a" stroke="#2a2a2a" stroke-width="0.2">100</text>
<line x1="371.6" y1="569.4" x2="374.6" y2="569.4" stroke="#231f20" stroke-width="1.25"/>
<text x="367.70000000000005" y="571.6759999999999" font-size="6.6" text-anchor="end" fill="#2a2a2a" stroke="#2a2a2a" stroke-width="0.2">0</text>
<rect x="383.3" y="543.1" width="16.69999999999999" height="26.299999999999955" fill="#6a8eb7"/>
<line x1="391.65" y1="539.2" x2="391.65" y2="546.5" stroke="#1f5694" stroke-width="0.9"/>
<line x1="389.65" y1="539.2" x2="393.65" y2="539.2" stroke="#1f5694" stroke-width="0.9"/>
<circle cx="391.5" cy="508.5" r="1.7" fill="#fff" stroke="#1f5694" stroke-width="0.9"/>
<circle cx="391.5" cy="526.2" r="1.7" fill="#fff" stroke="#1f5694" stroke-width="0.9"/>
<circle cx="391.5" cy="532.9" r="1.7" fill="#fff" stroke="#1f5694" stroke-width="0.9"/>
<circle cx="387.1" cy="539.6" r="1.7" fill="#fff" stroke="#1f5694" stroke-width="0.9"/>
<circle cx="391.5" cy="537.7" r="1.7" fill="#fff" stroke="#1f5694" stroke-width="0.9"/>
<circle cx="396.7" cy="541.2" r="1.7" fill="#fff" stroke="#1f5694" stroke-width="0.9"/>
<circle cx="389" cy="542.1" r="1.7" fill="#fff" stroke="#1f5694" stroke-width="0.9"/>
<circle cx="393.8" cy="544.6" r="1.7" fill="#fff" stroke="#1f5694" stroke-width="0.9"/>
<circle cx="387.1" cy="550.8" r="1.7" fill="#fff" stroke="#1f5694" stroke-width="0.9"/>
<circle cx="390.4" cy="551.2" r="1.7" fill="#fff" stroke="#1f5694" stroke-width="0.9"/>
<circle cx="396.2" cy="551.7" r="1.7" fill="#fff" stroke="#1f5694" stroke-width="0.9"/>
<circle cx="387.1" cy="556.5" r="1.7" fill="#fff" stroke="#1f5694" stroke-width="0.9"/>
<circle cx="391.9" cy="555.6" r="1.7" fill="#fff" stroke="#1f5694" stroke-width="0.9"/>
<circle cx="391.5" cy="561.9" r="1.7" fill="#fff" stroke="#1f5694" stroke-width="0.9"/>
<rect x="409.6" y="531.0" width="16.599999999999966" height="38.39999999999998" fill="#da6679"/>
<line x1="417.9" y1="526.2" x2="417.9" y2="535.5" stroke="#d0163d" stroke-width="0.9"/>
<line x1="415.9" y1="526.2" x2="419.9" y2="526.2" stroke="#d0163d" stroke-width="0.9"/>
<circle cx="413.1" cy="512.3" r="1.7" fill="#fff" stroke="#d0163d" stroke-width="0.9"/>
<circle cx="417.9" cy="514.2" r="1.7" fill="#fff" stroke="#d0163d" stroke-width="0.9"/>
<circle cx="417.9" cy="520" r="1.7" fill="#fff" stroke="#d0163d" stroke-width="0.9"/>
<circle cx="422.7" cy="519.4" r="1.7" fill="#fff" stroke="#d0163d" stroke-width="0.9"/>
<circle cx="415.4" cy="534.4" r="1.7" fill="#fff" stroke="#d0163d" stroke-width="0.9"/>
<circle cx="420.4" cy="534.4" r="1.7" fill="#fff" stroke="#d0163d" stroke-width="0.9"/>
<circle cx="413.1" cy="542.1" r="1.7" fill="#fff" stroke="#d0163d" stroke-width="0.9"/>
<circle cx="417.9" cy="542.1" r="1.7" fill="#fff" stroke="#d0163d" stroke-width="0.9"/>
<circle cx="422.3" cy="542.1" r="1.7" fill="#fff" stroke="#d0163d" stroke-width="0.9"/>
<line x1="374.6" y1="569.4" x2="430.4" y2="569.4" stroke="#231f20" stroke-width="1.25"/>
<line x1="391.65" y1="569.4" x2="391.65" y2="571.9" stroke="#231f20" stroke-width="1.25"/>
<line x1="417.9" y1="569.4" x2="417.9" y2="571.9" stroke="#231f20" stroke-width="1.25"/>
<text x="391.5" y="581.5" font-size="6.6" text-anchor="middle" fill="#231f20" stroke="#231f20" stroke-width="0.2">WT</text>
<text x="418.0" y="581.5" font-size="6.6" text-anchor="middle" fill="#231f20" stroke="#231f20" stroke-width="0.2">cKO</text>
<path d="M391.5,504.5 V501.7 H418.5 V504.5" stroke="#231f20" fill="none" stroke-width="0.9"/>
<text x="405.0" y="502.40000000000003" font-size="7.2" text-anchor="middle" fill="#231f20" stroke="#231f20" stroke-width="0.2">*</text>
<text transform="translate(350.4,533.5) rotate(-90)" font-size="8.6" text-anchor="middle" fill="#231f20" stroke="#231f20" stroke-width="0.2" textLength="52" lengthAdjust="spacingAndGlyphs">Capacitance (pF)</text>
<text transform="translate(16.599999999999998,607.0) scale(1.12,1)" font-size="12.1" font-weight="bold" fill="#000" stroke="#000" stroke-width="0.3">N</text>
<line x1="58.6" y1="627.0" x2="58.6" y2="680.5" stroke="#231f20" stroke-width="1.25"/>
<line x1="55.6" y1="629.8" x2="58.6" y2="629.8" stroke="#231f20" stroke-width="1.25"/>
<text x="52.4" y="632.0759999999999" font-size="6.6" text-anchor="end" fill="#2a2a2a" stroke="#2a2a2a" stroke-width="0.2">80</text>
<line x1="55.6" y1="639.8" x2="58.6" y2="639.8" stroke="#231f20" stroke-width="1.25"/>
<text x="52.4" y="642.0759999999999" font-size="6.6" text-anchor="end" fill="#2a2a2a" stroke="#2a2a2a" stroke-width="0.2">60</text>
<line x1="55.6" y1="649.4" x2="58.6" y2="649.4" stroke="#231f20" stroke-width="1.25"/>
<text x="52.4" y="651.6759999999999" font-size="6.6" text-anchor="end" fill="#2a2a2a" stroke="#2a2a2a" stroke-width="0.2">40</text>
<line x1="55.6" y1="658.5" x2="58.6" y2="658.5" stroke="#231f20" stroke-width="1.25"/>
<text x="52.4" y="660.776" font-size="6.6" text-anchor="end" fill="#2a2a2a" stroke="#2a2a2a" stroke-width="0.2">20</text>
<line x1="55.6" y1="667.7" x2="58.6" y2="667.7" stroke="#231f20" stroke-width="1.25"/>
<text x="52.4" y="669.976" font-size="6.6" text-anchor="end" fill="#2a2a2a" stroke="#2a2a2a" stroke-width="0.2">0</text>
<line x1="55.6" y1="677.3" x2="58.6" y2="677.3" stroke="#231f20" stroke-width="1.25"/>
<text x="52.4" y="679.5759999999999" font-size="6.6" text-anchor="end" fill="#2a2a2a" stroke="#2a2a2a" stroke-width="0.2">−20</text>
<line x1="58.6" y1="667.7" x2="130.4" y2="667.7" stroke="#231f20" stroke-width="1"/>
<line x1="73.0" y1="667.7" x2="73.0" y2="670.8" stroke="#231f20" stroke-width="1"/>
<text x="73.0" y="680.8" font-size="6.6" text-anchor="middle" fill="#231f20" stroke="#231f20" stroke-width="0.2">2</text>
<line x1="87.1" y1="667.7" x2="87.1" y2="670.8" stroke="#231f20" stroke-width="1"/>
<text x="87.1" y="680.8" font-size="6.6" text-anchor="middle" fill="#231f20" stroke="#231f20" stroke-width="0.2">4</text>
<line x1="101.2" y1="667.7" x2="101.2" y2="670.8" stroke="#231f20" stroke-width="1"/>
<text x="101.2" y="680.8" font-size="6.6" text-anchor="middle" fill="#231f20" stroke="#231f20" stroke-width="0.2">6</text>
<line x1="115.4" y1="667.7" x2="115.4" y2="670.8" stroke="#231f20" stroke-width="1"/>
<text x="115.4" y="680.8" font-size="6.6" text-anchor="middle" fill="#231f20" stroke="#231f20" stroke-width="0.2">8</text>
<line x1="129.4" y1="667.7" x2="129.4" y2="670.8" stroke="#231f20" stroke-width="1"/>
<text x="129.4" y="680.8" font-size="6.6" text-anchor="middle" fill="#231f20" stroke="#231f20" stroke-width="0.2">10</text>
<path d="M58.6,667.7 H72.7 C74,662 76.5,656 79.4,651.9 C83,647 89,641 95.5,635.1 C97.3,635.8 98.3,641 99.2,647.5 C100.2,655 101.3,660 103,662.8 C105,665.6 108,667 112.5,667.6" stroke="#3b1548" fill="none" stroke-width="1.7" stroke-linejoin="round"/>
<path d="M72.7,667.9 L96.5,675.3 L101.5,667.9" stroke="#3b1548" fill="none" stroke-width="1.0"/>
<line x1="87.1" y1="667.7" x2="87.1" y2="671.5" stroke="#3b1548" stroke-width="0.9"/>
<line x1="67.9" y1="624.8" x2="111.2" y2="624.8" stroke="#d12c4e" stroke-width="1.3"/>
<text x="89.0" y="623.0" font-size="6.8" text-anchor="middle" fill="#d12c4e" stroke="#d12c4e" stroke-width="0.2">HYPO</text>
<text x="103.4" y="632.0" font-size="6.6" text-anchor="middle" fill="#bcc1a0" stroke="#bcc1a0" stroke-width="0.2" textLength="21" lengthAdjust="spacingAndGlyphs">SN-401</text>
<line x1="95.8" y1="633.6" x2="112.0" y2="633.6" stroke="#9fab7a" stroke-width="1.1"/>
<text x="65.5" y="651.8" font-size="6.8" text-anchor="middle" fill="#7b4d9a" stroke="#7b4d9a" stroke-width="0.2" textLength="10.6" lengthAdjust="spacingAndGlyphs">ISO</text>
<line x1="60.8" y1="654.6" x2="66.0" y2="654.6" stroke="#7b4d9a" stroke-width="1.0"/>
<text x="117.7" y="645.8" font-size="9.4" text-anchor="middle" fill="#2f5f9e" stroke="#2f5f9e" stroke-width="0.2">WT</text>
<text x="94.5" y="693.0" font-size="7.8" text-anchor="middle" fill="#231f20" stroke="#231f20" stroke-width="0.2" textLength="34" lengthAdjust="spacingAndGlyphs">Time (min)</text>
<text transform="translate(24.3,652.1) rotate(-90)" font-size="8.0" text-anchor="middle" fill="#231f20" stroke="#231f20" stroke-width="0.2" textLength="48.7" lengthAdjust="spacingAndGlyphs">Current density</text>
<text transform="translate(34.4,652.6) rotate(-90)" font-size="8.0" text-anchor="middle" fill="#231f20" stroke="#231f20" stroke-width="0.2" textLength="23.5" lengthAdjust="spacingAndGlyphs">(pA/pF)</text>
<text transform="translate(149.4,606.9) scale(1.12,1)" font-size="12.1" font-weight="bold" fill="#000" stroke="#000" stroke-width="0.3">O</text>
<line x1="193.4" y1="628.6" x2="193.4" y2="685.1" stroke="#231f20" stroke-width="1.25"/>
<line x1="190.4" y1="631.2" x2="193.4" y2="631.2" stroke="#231f20" stroke-width="1.25"/>
<text x="187.4" y="633.476" font-size="6.6" text-anchor="end" fill="#2a2a2a" stroke="#2a2a2a" stroke-width="0.2">60</text>
<line x1="190.4" y1="643.9" x2="193.4" y2="643.9" stroke="#231f20" stroke-width="1.25"/>
<text x="187.4" y="646.1759999999999" font-size="6.6" text-anchor="end" fill="#2a2a2a" stroke="#2a2a2a" stroke-width="0.2">40</text>
<line x1="190.4" y1="656.4" x2="193.4" y2="656.4" stroke="#231f20" stroke-width="1.25"/>
<text x="187.4" y="658.6759999999999" font-size="6.6" text-anchor="end" fill="#2a2a2a" stroke="#2a2a2a" stroke-width="0.2">20</text>
<line x1="190.4" y1="669.9" x2="193.4" y2="669.9" stroke="#231f20" stroke-width="1.25"/>
<line x1="190.4" y1="682.4" x2="193.4" y2="682.4" stroke="#231f20" stroke-width="1.25"/>
<text x="187.4" y="684.6759999999999" font-size="6.6" text-anchor="end" fill="#2a2a2a" stroke="#2a2a2a" stroke-width="0.2">−20</text>
<line x1="155.3" y1="669.9" x2="231.4" y2="669.9" stroke="#231f20" stroke-width="1"/>
<line x1="157.4" y1="669.9" x2="157.4" y2="672.9" stroke="#231f20" stroke-width="1"/>
<line x1="175.0" y1="669.9" x2="175.0" y2="672.9" stroke="#231f20" stroke-width="1"/>
<line x1="211.8" y1="669.9" x2="211.8" y2="672.9" stroke="#231f20" stroke-width="1"/>
<line x1="229.3" y1="669.9" x2="229.3" y2="672.9" stroke="#231f20" stroke-width="1"/>
<text transform="translate(162.9,642.9) rotate(-90)" font-size="8.0" text-anchor="middle" fill="#231f20" stroke="#231f20" stroke-width="0.2" textLength="48" lengthAdjust="spacingAndGlyphs">Current density</text>
<text transform="translate(173.8,643.1) rotate(-90)" font-size="8.0" text-anchor="middle" fill="#231f20" stroke="#231f20" stroke-width="0.2" textLength="23.4" lengthAdjust="spacingAndGlyphs">(pA/pF)</text>
<text x="157.0" y="680.2" font-size="6.6" text-anchor="middle" fill="#231f20" stroke="#231f20" stroke-width="0.2">−100</text>
<text x="176.5" y="680.2" font-size="6.6" text-anchor="middle" fill="#231f20" stroke="#231f20" stroke-width="0.2">−50</text>
<text x="211.9" y="680.2" font-size="6.6" text-anchor="middle" fill="#231f20" stroke="#231f20" stroke-width="0.2">50</text>
<text x="230.4" y="680.2" font-size="6.6" text-anchor="middle" fill="#231f20" stroke="#231f20" stroke-width="0.2">100</text>
<path d="M156.3,678.8 C170,675 182,670.5 194.4,666.1 C206,661 218,652 230.4,639.6" stroke="#c8203f" fill="none" stroke-width="1.1"/>
<text x="213.0" y="623.0" font-size="9.4" text-anchor="middle" fill="#2f5f9e" stroke="#2f5f9e" stroke-width="0.2">WT</text>
<text x="213.8" y="643.3" font-size="6.8" text-anchor="middle" fill="#d12c4e" stroke="#d12c4e" stroke-width="0.2" textLength="18.4" lengthAdjust="spacingAndGlyphs">HYPO</text>
<line x1="212.4" y1="643.8" x2="212.4" y2="650.0" stroke="#c8203f" stroke-width="0.9"/>
<path d="M210.6,648.5 L212.4,651.8 L214.2,648.5 Z" stroke="none" fill="#c8203f" stroke-width="1"/>
<text x="218.3" y="659.0" font-size="6.8" text-anchor="middle" fill="#7b4d9a" stroke="#7b4d9a" stroke-width="0.2" textLength="9.5" lengthAdjust="spacingAndGlyphs">ISO</text>
<line x1="218.1" y1="660.5" x2="218.1" y2="666.0" stroke="#3b1548" stroke-width="0.9"/>
<path d="M216.5,664.6 L218.1,668.0 L219.7,664.6 Z" stroke="none" fill="#3b1548" stroke-width="1"/>
<text x="241.0" y="646.2" font-size="6.8" text-anchor="middle" fill="#bcc1a0" stroke="#bcc1a0" stroke-width="0.2" textLength="21" lengthAdjust="spacingAndGlyphs">HYPO+</text>
<text x="241.5" y="653.8" font-size="6.8" text-anchor="middle" fill="#bcc1a0" stroke="#bcc1a0" stroke-width="0.2" textLength="20" lengthAdjust="spacingAndGlyphs">SN-401</text>
<line x1="229.3" y1="656.5" x2="229.3" y2="664.5" stroke="#a9b285" stroke-width="0.9"/>
<path d="M227.8,663.2 L229.3,666.4 L230.8,663.2 Z" stroke="none" fill="#a9b285" stroke-width="1"/>
<text x="193.4" y="697.2" font-size="7.8" text-anchor="middle" fill="#231f20" stroke="#231f20" stroke-width="0.2" textLength="40" lengthAdjust="spacingAndGlyphs">Voltage (mV)</text>
<text transform="translate(269.0,606.5999999999999) scale(1.12,1)" font-size="12.1" font-weight="bold" fill="#000" stroke="#000" stroke-width="0.3">P</text>
<line x1="313.7" y1="628.6" x2="313.7" y2="684.0" stroke="#231f20" stroke-width="1.25"/>
<line x1="310.7" y1="631.2" x2="313.7" y2="631.2" stroke="#231f20" stroke-width="1.25"/>
<text x="307.7" y="633.476" font-size="6.6" text-anchor="end" fill="#2a2a2a" stroke="#2a2a2a" stroke-width="0.2">60</text>
<line x1="310.7" y1="643.9" x2="313.7" y2="643.9" stroke="#231f20" stroke-width="1.25"/>
<text x="307.7" y="646.1759999999999" font-size="6.6" text-anchor="end" fill="#2a2a2a" stroke="#2a2a2a" stroke-width="0.2">40</text>
<line x1="310.7" y1="656.2" x2="313.7" y2="656.2" stroke="#231f20" stroke-width="1.25"/>
<text x="307.7" y="658.476" font-size="6.6" text-anchor="end" fill="#2a2a2a" stroke="#2a2a2a" stroke-width="0.2">20</text>
<line x1="310.7" y1="668.6" x2="313.7" y2="668.6" stroke="#231f20" stroke-width="1.25"/>
<line x1="310.7" y1="681.5" x2="313.7" y2="681.5" stroke="#231f20" stroke-width="1.25"/>
<text x="307.7" y="683.776" font-size="6.6" text-anchor="end" fill="#2a2a2a" stroke="#2a2a2a" stroke-width="0.2">−20</text>
<line x1="273.5" y1="668.6" x2="351.7" y2="668.6" stroke="#231f20" stroke-width="1"/>
<line x1="276.2" y1="668.6" x2="276.2" y2="671.6" stroke="#231f20" stroke-width="1"/>
<line x1="294.7" y1="668.6" x2="294.7" y2="671.6" stroke="#231f20" stroke-width="1"/>
<line x1="332.3" y1="668.6" x2="332.3" y2="671.6" stroke="#231f20" stroke-width="1"/>
<line x1="350.8" y1="668.6" x2="350.8" y2="671.6" stroke="#231f20" stroke-width="1"/>
<text transform="translate(283.0,642.9) rotate(-90)" font-size="8.0" text-anchor="middle" fill="#231f20" stroke="#231f20" stroke-width="0.2" textLength="48" lengthAdjust="spacingAndGlyphs">Current density</text>
<text transform="translate(293.0,643.1) rotate(-90)" font-size="8.0" text-anchor="middle" fill="#231f20" stroke="#231f20" stroke-width="0.2" textLength="23.4" lengthAdjust="spacingAndGlyphs">(pA/pF)</text>
<text x="276.1" y="680.2" font-size="6.6" text-anchor="middle" fill="#231f20" stroke="#231f20" stroke-width="0.2">−100</text>
<text x="294.4" y="680.2" font-size="6.6" text-anchor="middle" fill="#231f20" stroke="#231f20" stroke-width="0.2">−50</text>
<text x="332.3" y="680.2" font-size="6.6" text-anchor="middle" fill="#231f20" stroke="#231f20" stroke-width="0.2">50</text>
<text x="351.7" y="680.2" font-size="6.6" text-anchor="middle" fill="#231f20" stroke="#231f20" stroke-width="0.2">100</text>
<path d="M274,669.6 C300,668.8 325,668.0 350.5,666.8" stroke="#3b1548" fill="none" stroke-width="2.0"/>
<text x="332.2" y="622.9" font-size="9.4" text-anchor="middle" fill="#d12c4e" stroke="#d12c4e" stroke-width="0.2">cKO</text>
<text x="347.5" y="649.4" font-size="6.8" text-anchor="middle" fill="#d12c4e" stroke="#d12c4e" stroke-width="0.2" textLength="19" lengthAdjust="spacingAndGlyphs">HYPO</text>
<line x1="346.4" y1="651.3" x2="346.4" y2="663.0" stroke="#c8203f" stroke-width="1.3"/>
<path d="M344.4,661.5 L346.4,666.7 L348.4,661.5 Z" stroke="none" fill="#c8203f" stroke-width="1"/>
<text x="338.8" y="658.0" font-size="6.8" text-anchor="middle" fill="#7b4d9a" stroke="#7b4d9a" stroke-width="0.2" textLength="9.9" lengthAdjust="spacingAndGlyphs">ISO</text>
<line x1="341.8" y1="659.7" x2="341.8" y2="664.0" stroke="#3b1548" stroke-width="0.9"/>
<path d="M340.3,662.8 L341.8,666.0 L343.3,662.8 Z" stroke="none" fill="#3b1548" stroke-width="1"/>
<text x="314.2" y="695.0" font-size="7.8" text-anchor="middle" fill="#231f20" stroke="#231f20" stroke-width="0.2" textLength="41" lengthAdjust="spacingAndGlyphs">Voltage (mV)</text>
<text transform="translate(372.9,606.8) scale(1.12,1)" font-size="12.1" font-weight="bold" fill="#000" stroke="#000" stroke-width="0.3">Q</text>
<line x1="414.8" y1="612.5" x2="414.8" y2="686.0" stroke="#231f20" stroke-width="1.25"/>
<line x1="411.8" y1="616.6" x2="414.8" y2="616.6" stroke="#231f20" stroke-width="1.25"/>
<text x="409.0" y="618.876" font-size="6.6" text-anchor="end" fill="#2a2a2a" stroke="#2a2a2a" stroke-width="0.2">100</text>
<line x1="411.8" y1="638.9" x2="414.8" y2="638.9" stroke="#231f20" stroke-width="1.25"/>
<text x="409.0" y="641.1759999999999" font-size="6.6" text-anchor="end" fill="#2a2a2a" stroke="#2a2a2a" stroke-width="0.2">50</text>
<line x1="411.8" y1="661.1" x2="414.8" y2="661.1" stroke="#231f20" stroke-width="1.25"/>
<text x="409.0" y="663.376" font-size="6.6" text-anchor="end" fill="#2a2a2a" stroke="#2a2a2a" stroke-width="0.2">0</text>
<line x1="411.8" y1="683.4" x2="414.8" y2="683.4" stroke="#231f20" stroke-width="1.25"/>
<text x="409.0" y="685.6759999999999" font-size="6.6" text-anchor="end" fill="#2a2a2a" stroke="#2a2a2a" stroke-width="0.2">−50</text>
<rect x="418.4" y="661.1" width="4.4" height="5.2" fill="#a9b9d2"/>
<circle cx="419.5" cy="663.5" r="1.3" fill="none" stroke="#6f84a8" stroke-width="0.6"/>
<circle cx="421.8" cy="664.2" r="1.3" fill="none" stroke="#6f84a8" stroke-width="0.6"/>
<circle cx="420.2" cy="666.0" r="1.3" fill="none" stroke="#6f84a8" stroke-width="0.6"/>
<circle cx="421.5" cy="667.5" r="1.3" fill="none" stroke="#6f84a8" stroke-width="0.6"/>
<rect x="418.6" y="668.5" width="3.6" height="4.4" fill="none" stroke="#8d9cb8" stroke-width="0.7"/>
<rect x="427.0" y="640.5" width="5.1" height="20.6" fill="#a9b9d2"/>
<line x1="429.6" y1="634.1" x2="429.6" y2="640.5" stroke="#6f84a8" stroke-width="0.9"/>
<line x1="428.2" y1="634.1" x2="431.0" y2="634.1" stroke="#6f84a8" stroke-width="0.9"/>
<circle cx="429.6" cy="620.4" r="1.4" fill="#fff" stroke="#6f84a8" stroke-width="0.7"/>
<circle cx="429.6" cy="630.3" r="1.4" fill="#fff" stroke="#6f84a8" stroke-width="0.7"/>
<circle cx="428.8" cy="643.0" r="1.3" fill="none" stroke="#6f84a8" stroke-width="0.6"/>
<circle cx="430.4" cy="646.5" r="1.3" fill="none" stroke="#6f84a8" stroke-width="0.6"/>
<circle cx="429.6" cy="650.5" r="1.3" fill="none" stroke="#6f84a8" stroke-width="0.6"/>
<circle cx="428.8" cy="654.0" r="1.3" fill="none" stroke="#6f84a8" stroke-width="0.6"/>
<circle cx="430.2" cy="657.5" r="1.3" fill="none" stroke="#6f84a8" stroke-width="0.6"/>
<circle cx="443.8" cy="662.5" r="1.4" fill="#fff" stroke="#c9d28e" stroke-width="0.7"/>
<circle cx="452.5" cy="656.9" r="1.4" fill="#fff" stroke="#c9d28e" stroke-width="0.7"/>
<circle cx="446.0" cy="661.5" r="1.4" fill="#fff" stroke="#c9d28e" stroke-width="0.7"/>
<circle cx="465.0" cy="661.8" r="1.5" fill="#e04a68" stroke="#d0163d" stroke-width="0.8"/>
<circle cx="467.0" cy="662.5" r="1.5" fill="#e04a68" stroke="#d0163d" stroke-width="0.8"/>
<circle cx="469.0" cy="661.6" r="1.5" fill="#e04a68" stroke="#d0163d" stroke-width="0.8"/>
<circle cx="466.0" cy="660.8" r="1.5" fill="#e04a68" stroke="#d0163d" stroke-width="0.8"/>
<circle cx="468.2" cy="660.4" r="1.5" fill="#e04a68" stroke="#d0163d" stroke-width="0.8"/>
<circle cx="473.8" cy="659.8" r="1.5" fill="#e04a68" stroke="#d0163d" stroke-width="0.8"/>
<circle cx="476.0" cy="659.2" r="1.5" fill="#e04a68" stroke="#d0163d" stroke-width="0.8"/>
<circle cx="475.0" cy="660.6" r="1.5" fill="#e04a68" stroke="#d0163d" stroke-width="0.8"/>
<circle cx="477.2" cy="660.5" r="1.5" fill="#e04a68" stroke="#d0163d" stroke-width="0.8"/>
<line x1="414.8" y1="661.1" x2="481.3" y2="661.1" stroke="#231f20" stroke-width="1.3"/>
<line x1="429.4" y1="610.0" x2="450.0" y2="610.0" stroke="#333" stroke-width="1.1"/>
<text x="439.7" y="610.0" font-size="6" text-anchor="middle" fill="#231f20" stroke="#231f20" stroke-width="0.2">* *</text>
<line x1="429.4" y1="616.3" x2="474.4" y2="616.3" stroke="#333" stroke-width="1.1"/>
<text x="451.8" y="616.3" font-size="6" text-anchor="middle" fill="#231f20" stroke="#231f20" stroke-width="0.2">* * *</text>
<line x1="420.3" y1="677.1" x2="443.6" y2="677.1" stroke="#333" stroke-width="1.1"/>
<text x="431.9" y="683.3" font-size="6" text-anchor="middle" fill="#231f20" stroke="#231f20" stroke-width="0.2">* *</text>
<line x1="420.3" y1="684.3" x2="467.0" y2="684.3" stroke="#333" stroke-width="1.1"/>
<text x="443.5" y="690.3" font-size="6" text-anchor="middle" fill="#231f20" stroke="#231f20" stroke-width="0.2">* *</text>
<text transform="translate(443.8,631.5) rotate(-42)" font-size="4.6" text-anchor="middle" fill="#cfcfcf" stroke="#cfcfcf" stroke-width="0.2" textLength="24" lengthAdjust="spacingAndGlyphs">WT + HYPO</text>
<text transform="translate(451.0,644.8) rotate(-42)" font-size="4.6" text-anchor="middle" fill="#d6dea0" stroke="#d6dea0" stroke-width="0.2" textLength="25" lengthAdjust="spacingAndGlyphs">WT + HYPO</text>
<text transform="translate(453.8,649.8) rotate(-42)" font-size="4.6" text-anchor="middle" fill="#d6dea0" stroke="#d6dea0" stroke-width="0.2" textLength="19" lengthAdjust="spacingAndGlyphs">+ SN-401</text>
<text transform="translate(474.0,644.0) rotate(-42)" font-size="4.8" text-anchor="middle" fill="#e0405e" stroke="#e0405e" stroke-width="0.2" textLength="25" lengthAdjust="spacingAndGlyphs">LRRC8A cKO</text>
<text transform="translate(473.0,651.8) rotate(-42)" font-size="4.8" text-anchor="middle" fill="#e0405e" stroke="#e0405e" stroke-width="0.2" textLength="14" lengthAdjust="spacingAndGlyphs">+HYPO</text>
<text transform="translate(380.5,647.0) rotate(-90)" font-size="8.0" text-anchor="middle" fill="#231f20" stroke="#231f20" stroke-width="0.2" textLength="48.8" lengthAdjust="spacingAndGlyphs">Current density</text>
<text transform="translate(391.0,647.7) rotate(-90)" font-size="8.0" text-anchor="middle" fill="#231f20" stroke="#231f20" stroke-width="0.2" textLength="23.4" lengthAdjust="spacingAndGlyphs">(pA/pF)</text>
</svg>
</body></html>
